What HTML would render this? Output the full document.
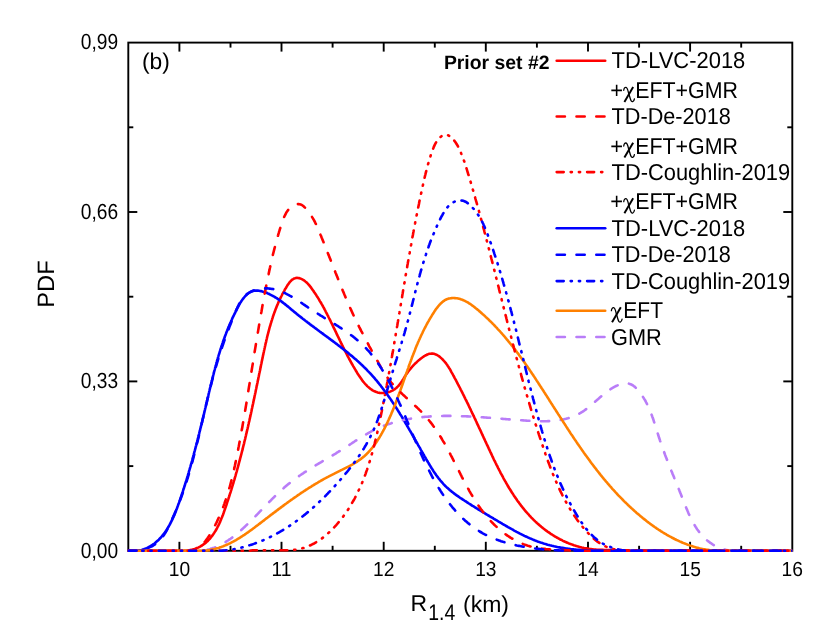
<!DOCTYPE html>
<html><head><meta charset="utf-8"><title>PDF R1.4</title>
<style>
html,body{margin:0;padding:0;background:#fff;}
body{width:830px;height:636px;overflow:hidden;}
svg{display:block;font-family:"Liberation Sans",sans-serif;will-change:transform;text-rendering:geometricPrecision;}
text{fill:#000;}
.chi{font-family:"Liberation Serif",serif;font-size:24.5px;}
.cv{fill:none;stroke-width:2.6;stroke-linecap:round;stroke-linejoin:round;}
.curves path{fill:none;stroke-width:2.6;stroke-linecap:round;stroke-linejoin:round;}
.ax line{stroke:#000;stroke-width:1.9;}
</style></head>
<body>
<svg width="830" height="636" viewBox="0 0 830 636">
<rect x="0" y="0" width="830" height="636" fill="#ffffff"/>
<g class="ax">
<rect x="128.3" y="42.6" width="664.0" height="508.19999999999993" fill="none" stroke="#000" stroke-width="1.9"/>
<line x1="179.4" y1="550.8" x2="179.4" y2="541.8"/>
<line x1="179.4" y1="42.6" x2="179.4" y2="51.6"/>
<line x1="230.5" y1="550.8" x2="230.5" y2="545.8"/>
<line x1="230.5" y1="42.6" x2="230.5" y2="47.6"/>
<line x1="281.5" y1="550.8" x2="281.5" y2="541.8"/>
<line x1="281.5" y1="42.6" x2="281.5" y2="51.6"/>
<line x1="332.6" y1="550.8" x2="332.6" y2="545.8"/>
<line x1="332.6" y1="42.6" x2="332.6" y2="47.6"/>
<line x1="383.7" y1="550.8" x2="383.7" y2="541.8"/>
<line x1="383.7" y1="42.6" x2="383.7" y2="51.6"/>
<line x1="434.8" y1="550.8" x2="434.8" y2="545.8"/>
<line x1="434.8" y1="42.6" x2="434.8" y2="47.6"/>
<line x1="485.8" y1="550.8" x2="485.8" y2="541.8"/>
<line x1="485.8" y1="42.6" x2="485.8" y2="51.6"/>
<line x1="536.9" y1="550.8" x2="536.9" y2="545.8"/>
<line x1="536.9" y1="42.6" x2="536.9" y2="47.6"/>
<line x1="588.0" y1="550.8" x2="588.0" y2="541.8"/>
<line x1="588.0" y1="42.6" x2="588.0" y2="51.6"/>
<line x1="639.1" y1="550.8" x2="639.1" y2="545.8"/>
<line x1="639.1" y1="42.6" x2="639.1" y2="47.6"/>
<line x1="690.1" y1="550.8" x2="690.1" y2="541.8"/>
<line x1="690.1" y1="42.6" x2="690.1" y2="51.6"/>
<line x1="741.2" y1="550.8" x2="741.2" y2="545.8"/>
<line x1="741.2" y1="42.6" x2="741.2" y2="47.6"/>
<line x1="128.3" y1="466.1" x2="133.3" y2="466.1"/>
<line x1="792.3" y1="466.1" x2="787.3" y2="466.1"/>
<line x1="128.3" y1="381.4" x2="137.3" y2="381.4"/>
<line x1="792.3" y1="381.4" x2="783.3" y2="381.4"/>
<line x1="128.3" y1="296.7" x2="133.3" y2="296.7"/>
<line x1="792.3" y1="296.7" x2="787.3" y2="296.7"/>
<line x1="128.3" y1="212.0" x2="137.3" y2="212.0"/>
<line x1="792.3" y1="212.0" x2="783.3" y2="212.0"/>
<line x1="128.3" y1="127.3" x2="133.3" y2="127.3"/>
<line x1="792.3" y1="127.3" x2="787.3" y2="127.3"/>
</g>
<clipPath id="pc"><rect x="127.70000000000002" y="42.6" width="664.6" height="511.19999999999993"/></clipPath>
<g class="curves" clip-path="url(#pc)">
<path d="M128.3,550.8 L185.0,550.8 L186.3,550.7 L187.6,550.5 L188.9,550.4 L190.2,550.1 L191.4,549.9 L192.6,549.6 L193.7,549.2 L194.8,548.9 L195.9,548.5 L197.0,548.0 L198.1,547.6 L199.1,547.1 L200.1,546.6 L201.0,546.0 L202.0,545.5 L202.9,544.8 L203.8,544.2 L204.7,543.6 L205.5,542.9 L206.4,542.2 L207.2,541.4 L208.0,540.7 L208.7,539.9 L209.5,539.1 L210.2,538.3 L210.9,537.4 L211.6,536.5 L212.3,535.7 L212.9,534.8 L213.6,533.8 L214.2,532.9 L214.8,531.9 L215.4,531.0 L216.0,530.0 L216.6,529.0 L217.1,528.0 L217.6,526.9 L218.2,525.9 L218.7,524.8 L219.2,523.8 L219.7,522.7 L220.2,521.6 L220.6,520.5 L221.1,519.4 L221.5,518.3 L222.0,517.2 L222.4,516.1 L222.9,515.0 L223.3,513.8 L223.7,512.7 L224.1,511.5 L224.5,510.4 L224.9,509.3 L225.3,508.1 L225.7,507.0 L226.1,505.8 L226.5,504.7 L226.9,503.5 L227.2,502.4 L227.6,501.2 L228.0,500.1 L228.4,498.9 L228.7,497.8 L229.1,496.7 L229.5,495.5 L229.8,494.4 L230.2,493.2 L230.6,492.1 L230.9,491.0 L231.3,489.8 L231.6,488.7 L232.0,487.5 L232.3,486.4 L232.7,485.3 L233.0,484.1 L233.4,483.0 L233.7,481.8 L234.0,480.7 L234.4,479.6 L234.7,478.4 L235.0,477.3 L235.4,476.1 L235.7,475.0 L236.0,473.9 L236.3,472.7 L236.7,471.6 L237.0,470.5 L237.3,469.3 L237.6,468.2 L237.9,467.1 L238.2,465.9 L238.5,464.8 L238.8,463.7 L239.1,462.5 L239.4,461.4 L239.7,460.3 L240.0,459.1 L240.3,458.0 L240.6,456.9 L240.9,455.7 L241.2,454.6 L241.5,453.5 L241.8,452.3 L242.1,451.2 L242.4,450.1 L242.7,448.9 L242.9,447.8 L243.2,446.7 L243.5,445.5 L243.8,444.4 L244.1,443.3 L244.3,442.1 L244.6,441.0 L244.9,439.9 L245.2,438.7 L245.4,437.6 L245.7,436.5 L246.0,435.3 L246.2,434.2 L246.5,433.1 L246.8,431.9 L247.0,430.8 L247.3,429.7 L247.6,428.5 L247.8,427.4 L248.1,426.3 L248.3,425.1 L248.6,424.0 L248.8,422.9 L249.1,421.7 L249.4,420.6 L249.6,419.5 L249.9,418.4 L250.1,417.2 L250.4,416.1 L250.6,414.9 L250.9,413.8 L251.1,412.7 L251.4,411.5 L251.6,410.4 L251.8,409.3 L252.1,408.1 L252.3,407.0 L252.6,405.9 L252.8,404.7 L253.1,403.6 L253.3,402.5 L253.5,401.3 L253.8,400.2 L254.0,399.1 L254.3,397.9 L254.5,396.8 L254.7,395.6 L255.0,394.5 L255.2,393.4 L255.5,392.2 L255.7,391.1 L255.9,390.0 L256.2,388.8 L256.4,387.7 L256.6,386.5 L256.9,385.4 L257.1,384.3 L257.4,383.1 L257.6,382.0 L257.8,380.8 L258.1,379.7 L258.3,378.5 L258.5,377.4 L258.8,376.3 L259.0,375.1 L259.2,374.0 L259.5,372.8 L259.7,371.7 L260.0,370.5 L260.2,369.4 L260.4,368.2 L260.7,367.1 L260.9,365.9 L261.1,364.8 L261.4,363.6 L261.6,362.5 L261.8,361.3 L262.1,360.2 L262.3,359.0 L262.6,357.9 L262.8,356.7 L263.0,355.6 L263.3,354.4 L263.5,353.3 L263.8,352.1 L264.0,351.0 L264.3,349.8 L264.5,348.7 L264.8,347.5 L265.0,346.4 L265.3,345.2 L265.5,344.1 L265.8,342.9 L266.1,341.8 L266.3,340.6 L266.6,339.5 L266.9,338.3 L267.1,337.2 L267.4,336.0 L267.7,334.9 L268.0,333.7 L268.3,332.6 L268.6,331.4 L268.9,330.3 L269.2,329.2 L269.5,328.0 L269.8,326.9 L270.2,325.8 L270.5,324.6 L270.8,323.5 L271.2,322.4 L271.5,321.2 L271.9,320.1 L272.2,319.0 L272.6,317.9 L272.9,316.7 L273.3,315.6 L273.7,314.5 L274.1,313.4 L274.5,312.3 L274.9,311.2 L275.3,310.1 L275.7,309.0 L276.2,307.9 L276.6,306.8 L277.0,305.7 L277.5,304.6 L278.0,303.5 L278.4,302.4 L278.9,301.4 L279.4,300.3 L279.9,299.2 L280.4,298.1 L280.9,297.1 L281.5,296.0 L282.0,295.0 L282.5,293.9 L283.1,292.9 L283.7,291.8 L284.3,290.8 L284.8,289.7 L285.4,288.7 L286.1,287.7 L286.7,286.6 L287.3,285.6 L288.0,284.6 L288.6,283.7 L289.3,282.7 L290.0,281.9 L290.8,281.0 L291.5,280.3 L292.3,279.6 L293.2,279.1 L294.0,278.6 L295.0,278.3 L295.9,278.0 L296.9,277.9 L298.0,278.0 L299.0,278.1 L300.1,278.4 L301.2,278.9 L302.3,279.4 L303.3,280.0 L304.4,280.6 L305.3,281.4 L306.3,282.2 L307.2,283.0 L308.0,284.0 L308.9,284.9 L309.7,285.9 L310.5,286.9 L311.3,287.9 L312.0,288.9 L312.7,289.9 L313.5,291.0 L314.1,292.0 L314.8,293.0 L315.5,294.0 L316.1,294.9 L316.7,295.9 L317.4,296.9 L318.0,297.9 L318.6,298.8 L319.2,299.8 L319.7,300.8 L320.3,301.8 L320.9,302.7 L321.4,303.7 L322.0,304.7 L322.6,305.7 L323.1,306.7 L323.7,307.7 L324.2,308.7 L324.7,309.7 L325.3,310.7 L325.8,311.8 L326.4,312.8 L326.9,313.8 L327.4,314.9 L328.0,315.9 L328.5,317.0 L329.0,318.0 L329.6,319.1 L330.1,320.2 L330.6,321.2 L331.1,322.3 L331.7,323.4 L332.2,324.4 L332.7,325.5 L333.2,326.6 L333.7,327.6 L334.2,328.7 L334.8,329.8 L335.3,330.9 L335.8,331.9 L336.3,333.0 L336.8,334.1 L337.3,335.2 L337.8,336.2 L338.4,337.3 L338.9,338.4 L339.4,339.4 L339.9,340.5 L340.4,341.5 L340.9,342.6 L341.4,343.7 L341.9,344.7 L342.5,345.7 L343.0,346.8 L343.5,347.8 L344.0,348.9 L344.5,349.9 L345.0,350.9 L345.5,351.9 L346.1,352.9 L346.6,353.9 L347.1,354.9 L347.6,356.0 L348.2,357.0 L348.7,358.0 L349.2,359.0 L349.8,360.0 L350.3,361.0 L350.9,362.0 L351.4,363.0 L352.0,364.0 L352.6,365.0 L353.2,366.1 L353.8,367.1 L354.4,368.1 L355.0,369.2 L355.6,370.2 L356.2,371.3 L356.9,372.3 L357.5,373.4 L358.2,374.4 L358.9,375.5 L359.6,376.5 L360.3,377.6 L361.0,378.6 L361.7,379.6 L362.4,380.6 L363.2,381.6 L364.0,382.5 L364.8,383.5 L365.6,384.4 L366.4,385.2 L367.2,386.1 L368.1,386.9 L368.9,387.6 L369.8,388.4 L370.7,389.0 L371.7,389.7 L372.6,390.3 L373.6,390.8 L374.6,391.3 L375.6,391.7 L376.6,392.1 L377.6,392.4 L378.7,392.7 L379.8,392.9 L380.9,393.0 L382.1,393.0 L383.2,393.0 L384.4,392.9 L385.5,392.8 L386.7,392.6 L387.9,392.3 L389.0,392.0 L390.1,391.6 L391.2,391.1 L392.3,390.6 L393.4,390.0 L394.4,389.4 L395.3,388.7 L396.3,388.0 L397.1,387.2 L398.0,386.3 L398.8,385.5 L399.5,384.6 L400.2,383.6 L400.9,382.7 L401.6,381.7 L402.3,380.7 L402.9,379.7 L403.6,378.6 L404.2,377.6 L404.8,376.6 L405.5,375.6 L406.1,374.6 L406.8,373.6 L407.5,372.7 L408.1,371.7 L408.8,370.8 L409.5,369.9 L410.3,369.0 L411.0,368.1 L411.8,367.2 L412.5,366.3 L413.3,365.5 L414.1,364.6 L414.9,363.8 L415.8,363.0 L416.7,362.2 L417.5,361.4 L418.4,360.6 L419.4,359.8 L420.3,359.0 L421.3,358.2 L422.3,357.5 L423.3,356.8 L424.3,356.1 L425.3,355.5 L426.4,355.0 L427.4,354.5 L428.5,354.1 L429.5,353.8 L430.6,353.7 L431.6,353.6 L432.7,353.6 L433.7,353.8 L434.8,354.1 L435.8,354.5 L436.8,354.9 L437.8,355.5 L438.8,356.1 L439.7,356.8 L440.6,357.6 L441.5,358.4 L442.4,359.2 L443.2,360.1 L444.0,361.0 L444.8,361.9 L445.6,362.8 L446.3,363.8 L447.0,364.7 L447.6,365.7 L448.3,366.7 L448.9,367.7 L449.6,368.7 L450.2,369.7 L450.8,370.8 L451.3,371.8 L451.9,372.9 L452.5,373.9 L453.1,375.0 L453.6,376.0 L454.2,377.0 L454.7,378.1 L455.3,379.1 L455.9,380.2 L456.4,381.2 L457.0,382.3 L457.5,383.3 L458.0,384.4 L458.6,385.4 L459.1,386.4 L459.7,387.5 L460.2,388.5 L460.7,389.6 L461.3,390.6 L461.8,391.7 L462.3,392.7 L462.8,393.7 L463.4,394.8 L463.9,395.8 L464.4,396.9 L464.9,397.9 L465.4,399.0 L465.9,400.0 L466.5,401.0 L467.0,402.1 L467.5,403.1 L468.0,404.2 L468.5,405.2 L469.0,406.3 L469.5,407.3 L470.0,408.4 L470.5,409.4 L471.0,410.5 L471.5,411.5 L472.0,412.6 L472.5,413.6 L473.0,414.6 L473.5,415.7 L474.0,416.7 L474.5,417.8 L475.0,418.8 L475.5,419.9 L476.0,421.0 L476.5,422.0 L476.9,423.1 L477.4,424.1 L477.9,425.2 L478.4,426.2 L478.9,427.3 L479.4,428.3 L479.9,429.4 L480.4,430.4 L480.9,431.5 L481.4,432.6 L481.9,433.6 L482.3,434.7 L482.8,435.7 L483.3,436.8 L483.8,437.9 L484.3,438.9 L484.8,440.0 L485.3,441.1 L485.8,442.1 L486.3,443.2 L486.8,444.3 L487.3,445.3 L487.8,446.4 L488.3,447.5 L488.8,448.6 L489.3,449.6 L489.8,450.7 L490.3,451.8 L490.8,452.8 L491.3,453.9 L491.8,455.0 L492.3,456.1 L492.8,457.1 L493.3,458.2 L493.8,459.3 L494.3,460.3 L494.9,461.4 L495.4,462.5 L495.9,463.5 L496.4,464.6 L497.0,465.7 L497.5,466.7 L498.0,467.8 L498.6,468.8 L499.1,469.9 L499.7,471.0 L500.2,472.0 L500.7,473.1 L501.3,474.1 L501.9,475.1 L502.4,476.2 L503.0,477.2 L503.5,478.3 L504.1,479.3 L504.7,480.3 L505.3,481.4 L505.9,482.4 L506.4,483.4 L507.0,484.4 L507.6,485.5 L508.2,486.5 L508.8,487.5 L509.4,488.5 L510.1,489.5 L510.7,490.5 L511.3,491.5 L511.9,492.5 L512.6,493.5 L513.2,494.4 L513.8,495.4 L514.5,496.4 L515.1,497.4 L515.8,498.3 L516.5,499.3 L517.1,500.2 L517.8,501.2 L518.5,502.1 L519.2,503.1 L519.9,504.0 L520.6,504.9 L521.3,505.9 L522.0,506.8 L522.7,507.7 L523.5,508.6 L524.2,509.5 L524.9,510.4 L525.7,511.3 L526.4,512.1 L527.2,513.0 L528.0,513.9 L528.8,514.7 L529.5,515.6 L530.3,516.4 L531.1,517.3 L531.9,518.1 L532.7,518.9 L533.6,519.8 L534.4,520.6 L535.2,521.4 L536.1,522.2 L536.9,523.0 L537.8,523.7 L538.7,524.5 L539.5,525.3 L540.4,526.0 L541.3,526.8 L542.2,527.5 L543.1,528.3 L544.1,529.0 L545.0,529.7 L545.9,530.4 L546.9,531.1 L547.8,531.8 L548.8,532.4 L549.8,533.1 L550.7,533.8 L551.7,534.4 L552.7,535.0 L553.7,535.7 L554.7,536.3 L555.7,536.9 L556.7,537.5 L557.8,538.0 L558.8,538.6 L559.8,539.2 L560.9,539.7 L561.9,540.2 L563.0,540.8 L564.0,541.3 L565.1,541.8 L566.2,542.2 L567.3,542.7 L568.3,543.2 L569.4,543.6 L570.5,544.0 L571.6,544.4 L572.7,544.8 L573.8,545.2 L575.0,545.6 L576.1,545.9 L577.2,546.3 L578.3,546.6 L579.5,546.9 L580.6,547.2 L581.7,547.5 L582.9,547.7 L584.0,548.0 L585.2,548.2 L586.3,548.4 L587.5,548.6 L588.6,548.8 L589.8,549.0 L591.0,549.1 L592.1,549.2 L593.3,549.4 L594.5,549.5 L595.7,549.6 L596.8,549.7 L598.0,549.7 L599.2,549.8 L600.4,549.8 L601.6,549.9 L602.8,549.9 L603.9,550.0 L605.1,550.0 L606.3,550.0 L607.5,550.1 L608.7,550.1 L609.8,550.1 L611.0,550.1 L612.2,550.2 L613.4,550.2 L614.6,550.2 L615.7,550.3 L616.9,550.3 L618.1,550.4 L619.2,550.4 L620.4,550.5 L621.5,550.5 L622.7,550.6 L623.9,550.7 L625.0,550.8 L792.3,550.8" stroke="#ff0000"/>
<path d="M128.4,550.8 L129.6,550.8 L130.7,550.8 L131.9,550.8 L133.0,550.8 L134.1,550.8 L135.2,550.8 L136.3,550.8 L137.4,550.8 L138.5,550.6 L139.6,550.4 L140.6,550.2 L141.7,549.9 L142.7,549.6 L143.7,549.3 L144.7,548.9 L145.7,548.5 L146.7,548.1 L147.6,547.7 L148.6,547.2 L149.5,546.7 L150.4,546.2 L151.3,545.6 L152.2,545.0 L153.1,544.4 L154.0,543.8 L154.8,543.2 L155.6,542.5 L156.4,541.8 L157.2,541.1 L158.0,540.4 L158.8,539.7 L159.5,538.9 L160.2,538.1 L161.0,537.4 L161.7,536.5 L162.4,535.7 L163.0,534.9 L163.7,534.0 L164.3,533.2 L165.0,532.3 L165.6,531.4 L166.2,530.5 L166.8,529.6 L167.3,528.7 L167.9,527.7 L168.5,526.8 L169.0,525.8 L169.6,524.9 L170.1,523.9 L170.6,522.9 L171.1,521.9 L171.6,520.9 L172.1,519.9 L172.5,518.9 L173.0,517.9 L173.5,516.8 L173.9,515.8 L174.4,514.8 L174.8,513.8 L175.2,512.7 L175.6,511.7 L176.1,510.6 L176.5,509.6 L176.9,508.5 L177.3,507.5 L177.6,506.4 L178.0,505.4 L178.4,504.3 L178.8,503.3 L179.2,502.2 L179.5,501.2 L179.9,500.1 L180.2,499.1 L180.6,498.1 L181.0,497.0 L181.3,496.0 L181.7,495.0 L182.0,493.9 L182.3,492.9 L182.7,491.9 L183.0,490.9 L183.3,489.8 L183.7,488.8 L184.0,487.8 L184.3,486.8 L184.7,485.8 L185.0,484.7 L185.3,483.7 L185.6,482.7 L185.9,481.7 L186.3,480.7 L186.6,479.7 L186.9,478.6 L187.2,477.6 L187.5,476.6 L187.8,475.6 L188.1,474.5 L188.4,473.5 L188.7,472.5 L189.0,471.4 L189.3,470.4 L189.6,469.4 L189.9,468.3 L190.2,467.3 L190.5,466.3 L190.8,465.2 L191.1,464.2 L191.4,463.2 L191.7,462.1 L192.0,461.1 L192.3,460.0 L192.5,459.0 L192.8,457.9 L193.1,456.9 L193.4,455.8 L193.7,454.8 L194.0,453.7 L194.2,452.7 L194.5,451.6 L194.8,450.6 L195.1,449.5 L195.4,448.4 L195.6,447.4 L195.9,446.3 L196.2,445.3 L196.5,444.2 L196.7,443.1 L197.0,442.1 L197.3,441.0 L197.6,440.0 L197.8,438.9 L198.1,437.8 L198.4,436.8 L198.6,435.7 L198.9,434.6 L199.2,433.6 L199.4,432.5 L199.7,431.4 L200.0,430.4 L200.2,429.3 L200.5,428.2 L200.8,427.2 L201.0,426.1 L201.3,425.0 L201.5,424.0 L201.8,422.9 L202.1,421.8 L202.3,420.8 L202.6,419.7 L202.8,418.6 L203.1,417.6 L203.3,416.5 L203.6,415.4 L203.9,414.4 L204.1,413.3 L204.4,412.2 L204.6,411.2 L204.9,410.1 L205.1,409.0 L205.4,408.0 L205.6,406.9 L205.9,405.9 L206.1,404.8 L206.4,403.7 L206.6,402.7 L206.9,401.6 L207.1,400.6 L207.4,399.5 L207.6,398.4 L207.9,397.4 L208.1,396.3 L208.4,395.3 L208.6,394.2 L208.9,393.1 L209.1,392.1 L209.4,391.0 L209.6,390.0 L209.9,388.9 L210.1,387.9 L210.4,386.8 L210.6,385.8 L210.9,384.7 L211.2,383.7 L211.4,382.6 L211.7,381.6 L211.9,380.5 L212.2,379.5 L212.4,378.4 L212.7,377.4 L213.0,376.4 L213.2,375.3 L213.5,374.3 L213.8,373.2 L214.0,372.2 L214.3,371.1 L214.6,370.1 L214.9,369.0 L215.1,368.0 L215.4,367.0 L215.7,365.9 L216.0,364.9 L216.3,363.8 L216.5,362.8 L216.8,361.8 L217.1,360.7 L217.4,359.7 L217.7,358.7 L218.0,357.6 L218.3,356.6 L218.6,355.5 L218.9,354.5 L219.3,353.5 L219.6,352.4 L219.9,351.4 L220.2,350.4 L220.5,349.3 L220.9,348.3 L221.2,347.3 L221.5,346.2 L221.9,345.2 L222.2,344.2 L222.6,343.1 L222.9,342.1 L223.3,341.1 L223.7,340.0 L224.0,339.0 L224.4,338.0 L224.8,337.0 L225.1,335.9 L225.5,334.9 L225.9,333.9 L226.3,332.8 L226.7,331.8 L227.1,330.8 L227.5,329.7 L227.9,328.7 L228.3,327.7 L228.8,326.7 L229.2,325.6 L229.6,324.6 L230.1,323.6 L230.5,322.5 L231.0,321.5 L231.4,320.5 L231.9,319.5 L232.3,318.4 L232.8,317.4 L233.3,316.4 L233.8,315.4 L234.3,314.3 L234.8,313.3 L235.3,312.3 L235.8,311.2 L236.3,310.2 L236.8,309.2 L237.3,308.2 L237.9,307.2 L238.4,306.1 L239.0,305.1 L239.5,304.1 L240.1,303.2 L240.7,302.2 L241.3,301.3 L241.9,300.4 L242.5,299.5 L243.2,298.6 L243.8,297.8 L244.5,297.0 L245.2,296.2 L245.9,295.5 L246.6,294.8 L247.4,294.1 L248.1,293.5 L248.9,293.0 L249.7,292.5 L250.5,292.0 L251.4,291.6 L252.2,291.3 L253.1,291.0 L254.0,290.8 L255.0,290.6 L255.9,290.6 L256.9,290.5 L257.9,290.6 L259.0,290.7 L260.0,290.9 L261.1,291.1 L262.2,291.4 L263.2,291.7 L264.3,292.0 L265.4,292.4 L266.5,292.8 L267.6,293.3 L268.6,293.8 L269.7,294.3 L270.7,294.8 L271.7,295.3 L272.7,295.8 L273.7,296.4 L274.7,297.0 L275.6,297.5 L276.6,298.1 L277.5,298.7 L278.4,299.4 L279.3,300.0 L280.2,300.6 L281.1,301.2 L282.0,301.9 L282.9,302.6 L283.7,303.2 L284.6,303.9 L285.5,304.6 L286.3,305.2 L287.1,305.9 L288.0,306.6 L288.8,307.3 L289.7,308.0 L290.5,308.7 L291.3,309.4 L292.1,310.1 L293.0,310.8 L293.8,311.5 L294.6,312.2 L295.5,312.8 L296.3,313.5 L297.1,314.2 L298.0,314.9 L298.8,315.6 L299.7,316.3 L300.5,316.9 L301.4,317.6 L302.2,318.3 L303.1,319.0 L304.0,319.6 L304.8,320.3 L305.7,321.0 L306.6,321.6 L307.4,322.3 L308.3,322.9 L309.2,323.6 L310.0,324.3 L310.9,324.9 L311.8,325.6 L312.7,326.2 L313.6,326.9 L314.4,327.5 L315.3,328.2 L316.2,328.8 L317.1,329.5 L318.0,330.2 L318.8,330.8 L319.7,331.5 L320.6,332.1 L321.5,332.8 L322.4,333.4 L323.3,334.1 L324.1,334.7 L325.0,335.4 L325.9,336.0 L326.8,336.7 L327.7,337.3 L328.6,338.0 L329.4,338.6 L330.3,339.3 L331.2,339.9 L332.1,340.6 L333.0,341.2 L333.8,341.9 L334.7,342.5 L335.6,343.2 L336.5,343.9 L337.3,344.5 L338.2,345.2 L339.1,345.9 L339.9,346.5 L340.8,347.2 L341.7,347.9 L342.5,348.5 L343.4,349.2 L344.3,349.9 L345.1,350.6 L346.0,351.2 L346.8,351.9 L347.7,352.6 L348.5,353.3 L349.3,354.0 L350.2,354.7 L351.0,355.4 L351.9,356.1 L352.7,356.8 L353.5,357.5 L354.3,358.2 L355.2,358.9 L356.0,359.6 L356.8,360.3 L357.6,361.1 L358.4,361.8 L359.2,362.5 L360.0,363.2 L360.8,364.0 L361.6,364.7 L362.4,365.5 L363.1,366.2 L363.9,367.0 L364.7,367.7 L365.5,368.5 L366.2,369.2 L367.0,370.0 L367.7,370.8 L368.5,371.6 L369.2,372.3 L370.0,373.1 L370.7,373.9 L371.4,374.7 L372.1,375.5 L372.9,376.3 L373.6,377.1 L374.3,377.9 L375.0,378.8 L375.7,379.6 L376.4,380.4 L377.1,381.2 L377.8,382.1 L378.4,382.9 L379.1,383.7 L379.8,384.6 L380.5,385.4 L381.1,386.3 L381.8,387.1 L382.4,388.0 L383.1,388.9 L383.7,389.7 L384.4,390.6 L385.0,391.5 L385.7,392.3 L386.3,393.2 L386.9,394.1 L387.6,395.0 L388.2,395.9 L388.8,396.7 L389.4,397.6 L390.1,398.5 L390.7,399.4 L391.3,400.3 L391.9,401.2 L392.5,402.1 L393.1,403.0 L393.7,403.9 L394.3,404.9 L394.9,405.8 L395.5,406.7 L396.1,407.6 L396.7,408.5 L397.3,409.4 L397.8,410.4 L398.4,411.3 L399.0,412.2 L399.6,413.1 L400.1,414.1 L400.7,415.0 L401.3,415.9 L401.9,416.9 L402.4,417.8 L403.0,418.7 L403.5,419.7 L404.1,420.6 L404.7,421.6 L405.2,422.5 L405.8,423.5 L406.3,424.4 L406.9,425.3 L407.4,426.3 L408.0,427.2 L408.5,428.2 L409.1,429.1 L409.6,430.1 L410.2,431.0 L410.7,432.0 L411.3,432.9 L411.8,433.9 L412.4,434.9 L412.9,435.8 L413.5,436.8 L414.0,437.7 L414.5,438.7 L415.1,439.6 L415.6,440.6 L416.2,441.5 L416.7,442.5 L417.3,443.4 L417.8,444.4 L418.3,445.3 L418.9,446.3 L419.4,447.2 L420.0,448.2 L420.5,449.2 L421.0,450.1 L421.6,451.1 L422.1,452.0 L422.7,453.0 L423.2,453.9 L423.8,454.8 L424.3,455.8 L424.8,456.7 L425.4,457.7 L425.9,458.6 L426.5,459.6 L427.0,460.5 L427.6,461.5 L428.1,462.4 L428.7,463.3 L429.2,464.3 L429.8,465.2 L430.4,466.1 L430.9,467.0 L431.5,468.0 L432.1,468.9 L432.7,469.8 L433.2,470.7 L433.8,471.6 L434.4,472.5 L435.0,473.4 L435.7,474.3 L436.3,475.2 L436.9,476.0 L437.5,476.9 L438.2,477.8 L438.8,478.6 L439.5,479.4 L440.2,480.3 L440.9,481.1 L441.6,481.9 L442.3,482.7 L443.0,483.5 L443.7,484.3 L444.5,485.1 L445.2,485.9 L446.0,486.6 L446.8,487.4 L447.6,488.1 L448.4,488.8 L449.2,489.5 L450.0,490.2 L450.9,490.9 L451.7,491.6 L452.6,492.3 L453.5,493.0 L454.3,493.6 L455.2,494.3 L456.1,494.9 L457.0,495.6 L457.9,496.2 L458.8,496.8 L459.7,497.5 L460.6,498.1 L461.6,498.7 L462.5,499.3 L463.4,499.9 L464.3,500.5 L465.3,501.1 L466.2,501.7 L467.1,502.3 L468.0,502.9 L468.9,503.5 L469.9,504.1 L470.8,504.7 L471.7,505.3 L472.6,505.9 L473.6,506.4 L474.5,507.0 L475.4,507.6 L476.3,508.2 L477.2,508.7 L478.2,509.3 L479.1,509.9 L480.0,510.4 L480.9,511.0 L481.9,511.6 L482.8,512.1 L483.7,512.7 L484.6,513.2 L485.6,513.8 L486.5,514.4 L487.4,514.9 L488.3,515.5 L489.3,516.0 L490.2,516.6 L491.1,517.1 L492.1,517.7 L493.0,518.2 L493.9,518.8 L494.9,519.3 L495.8,519.9 L496.7,520.4 L497.7,521.0 L498.6,521.6 L499.5,522.1 L500.5,522.7 L501.4,523.2 L502.4,523.8 L503.3,524.3 L504.2,524.9 L505.2,525.4 L506.1,526.0 L507.1,526.5 L508.0,527.1 L509.0,527.6 L509.9,528.1 L510.9,528.7 L511.8,529.2 L512.8,529.7 L513.8,530.3 L514.7,530.8 L515.7,531.3 L516.6,531.8 L517.6,532.3 L518.6,532.8 L519.5,533.3 L520.5,533.8 L521.5,534.3 L522.5,534.8 L523.5,535.3 L524.4,535.8 L525.4,536.3 L526.4,536.7 L527.4,537.2 L528.4,537.6 L529.4,538.1 L530.4,538.5 L531.4,538.9 L532.4,539.4 L533.4,539.8 L534.4,540.2 L535.4,540.6 L536.4,541.0 L537.4,541.4 L538.4,541.7 L539.5,542.1 L540.5,542.5 L541.5,542.8 L542.5,543.1 L543.6,543.5 L544.6,543.8 L545.7,544.1 L546.7,544.4 L547.7,544.7 L548.8,545.0 L549.8,545.3 L550.9,545.5 L552.0,545.8 L553.0,546.0 L554.1,546.3 L555.1,546.5 L556.2,546.7 L557.3,547.0 L558.3,547.2 L559.4,547.4 L560.5,547.6 L561.6,547.8 L562.6,547.9 L563.7,548.1 L564.8,548.3 L565.9,548.5 L566.9,548.6 L568.0,548.8 L569.1,548.9 L570.2,549.0 L571.3,549.2 L572.4,549.3 L573.4,549.4 L574.5,549.5 L575.6,549.6 L576.7,549.7 L577.8,549.8 L578.9,549.9 L580.0,550.0 L581.1,550.1 L582.2,550.2 L583.3,550.2 L584.3,550.3 L585.4,550.4 L586.5,550.4 L587.6,550.5 L588.7,550.5 L589.8,550.6 L590.9,550.6 L592.0,550.6 L593.1,550.7 L594.2,550.7 L595.2,550.7 L596.3,550.7 L597.4,550.8 L598.5,550.8 L599.6,550.8 L600.7,550.8 L601.8,550.8 L602.8,550.8 L603.9,550.8 L605.0,550.8 L792.3,550.8" stroke="#0000ff"/>
<path d="M128.3,550.8 L195.0,550.8 L196.1,550.8 L197.1,550.8 L198.2,550.8 L199.2,550.8 L200.3,550.7 L201.3,550.6 L202.3,550.5 L203.3,550.4 L204.3,550.2 L205.3,550.1 L206.3,549.9 L207.3,549.7 L208.3,549.4 L209.2,549.2 L210.2,548.9 L211.1,548.6 L212.1,548.4 L213.0,548.0 L214.0,547.7 L214.9,547.4 L215.8,547.0 L216.7,546.6 L217.6,546.2 L218.5,545.8 L219.4,545.4 L220.3,545.0 L221.2,544.5 L222.0,544.1 L222.9,543.6 L223.8,543.1 L224.6,542.6 L225.5,542.1 L226.3,541.5 L227.2,541.0 L228.0,540.5 L228.8,539.9 L229.6,539.3 L230.5,538.8 L231.3,538.2 L232.1,537.6 L232.9,537.0 L233.7,536.4 L234.5,535.7 L235.3,535.1 L236.1,534.5 L236.8,533.8 L237.6,533.2 L238.4,532.5 L239.2,531.8 L239.9,531.2 L240.7,530.5 L241.5,529.8 L242.2,529.1 L243.0,528.4 L243.7,527.7 L244.5,527.0 L245.2,526.3 L245.9,525.6 L246.7,524.9 L247.4,524.2 L248.2,523.5 L248.9,522.8 L249.6,522.1 L250.3,521.4 L251.1,520.6 L251.8,519.9 L252.5,519.2 L253.2,518.5 L253.9,517.7 L254.6,517.0 L255.4,516.3 L256.1,515.5 L256.8,514.8 L257.5,514.1 L258.2,513.4 L258.9,512.6 L259.6,511.9 L260.3,511.2 L261.0,510.4 L261.7,509.7 L262.4,509.0 L263.1,508.2 L263.8,507.5 L264.5,506.8 L265.2,506.0 L265.9,505.3 L266.7,504.6 L267.4,503.9 L268.1,503.1 L268.8,502.4 L269.5,501.7 L270.2,501.0 L270.9,500.3 L271.6,499.5 L272.3,498.8 L273.0,498.1 L273.8,497.4 L274.5,496.7 L275.2,496.0 L275.9,495.3 L276.6,494.6 L277.4,493.9 L278.1,493.2 L278.8,492.5 L279.6,491.8 L280.3,491.2 L281.0,490.5 L281.8,489.8 L282.5,489.1 L283.3,488.5 L284.0,487.8 L284.8,487.1 L285.5,486.5 L286.3,485.8 L287.0,485.2 L287.8,484.5 L288.6,483.9 L289.4,483.3 L290.1,482.7 L290.9,482.0 L291.7,481.4 L292.5,480.8 L293.3,480.2 L294.1,479.6 L294.9,479.0 L295.7,478.4 L296.5,477.8 L297.3,477.2 L298.2,476.7 L299.0,476.1 L299.8,475.5 L300.6,475.0 L301.5,474.4 L302.3,473.8 L303.1,473.3 L304.0,472.7 L304.8,472.2 L305.7,471.6 L306.5,471.1 L307.3,470.5 L308.2,470.0 L309.1,469.5 L309.9,468.9 L310.8,468.4 L311.6,467.9 L312.5,467.3 L313.3,466.8 L314.2,466.3 L315.1,465.7 L315.9,465.2 L316.8,464.7 L317.7,464.2 L318.5,463.7 L319.4,463.1 L320.3,462.6 L321.2,462.1 L322.0,461.6 L322.9,461.1 L323.8,460.6 L324.7,460.0 L325.5,459.5 L326.4,459.0 L327.3,458.5 L328.2,458.0 L329.0,457.4 L329.9,456.9 L330.8,456.4 L331.7,455.9 L332.5,455.4 L333.4,454.8 L334.3,454.3 L335.2,453.8 L336.0,453.3 L336.9,452.7 L337.8,452.2 L338.6,451.7 L339.5,451.1 L340.4,450.6 L341.2,450.1 L342.1,449.5 L343.0,449.0 L343.8,448.4 L344.7,447.9 L345.5,447.3 L346.4,446.8 L347.2,446.2 L348.1,445.7 L348.9,445.1 L349.8,444.6 L350.7,444.0 L351.5,443.5 L352.4,442.9 L353.2,442.3 L354.1,441.8 L354.9,441.2 L355.8,440.7 L356.6,440.1 L357.5,439.6 L358.3,439.0 L359.2,438.5 L360.0,438.0 L360.9,437.4 L361.8,436.9 L362.6,436.4 L363.5,435.9 L364.4,435.3 L365.2,434.8 L366.1,434.3 L367.0,433.8 L367.8,433.3 L368.7,432.8 L369.6,432.3 L370.5,431.9 L371.4,431.4 L372.3,430.9 L373.1,430.5 L374.0,430.0 L374.9,429.6 L375.8,429.2 L376.7,428.7 L377.7,428.3 L378.6,427.9 L379.5,427.5 L380.4,427.1 L381.3,426.7 L382.3,426.4 L383.2,426.0 L384.1,425.6 L385.1,425.3 L386.0,425.0 L387.0,424.6 L387.9,424.3 L388.9,424.0 L389.8,423.7 L390.8,423.4 L391.7,423.1 L392.7,422.8 L393.6,422.5 L394.6,422.2 L395.6,422.0 L396.6,421.7 L397.5,421.4 L398.5,421.2 L399.5,420.9 L400.5,420.7 L401.4,420.5 L402.4,420.3 L403.4,420.1 L404.4,419.8 L405.4,419.6 L406.4,419.4 L407.4,419.3 L408.4,419.1 L409.4,418.9 L410.4,418.7 L411.4,418.6 L412.4,418.4 L413.4,418.2 L414.4,418.1 L415.4,418.0 L416.4,417.8 L417.4,417.7 L418.4,417.6 L419.4,417.4 L420.4,417.3 L421.5,417.2 L422.5,417.1 L423.5,417.0 L424.5,416.9 L425.5,416.8 L426.5,416.7 L427.5,416.7 L428.6,416.6 L429.6,416.5 L430.6,416.4 L431.6,416.4 L432.6,416.3 L433.6,416.3 L434.7,416.2 L435.7,416.2 L436.7,416.1 L437.7,416.1 L438.7,416.1 L439.7,416.0 L440.8,416.0 L441.8,416.0 L442.8,416.0 L443.8,415.9 L444.8,415.9 L445.8,415.9 L446.9,415.9 L447.9,415.9 L448.9,415.9 L449.9,415.9 L450.9,415.9 L451.9,415.9 L452.9,415.9 L453.9,415.9 L454.9,416.0 L455.9,416.0 L456.9,416.0 L457.9,416.0 L458.9,416.1 L459.9,416.1 L460.9,416.1 L461.9,416.2 L462.9,416.2 L463.9,416.2 L464.9,416.3 L465.9,416.3 L466.9,416.4 L467.9,416.4 L468.9,416.5 L469.9,416.5 L470.9,416.6 L471.9,416.6 L472.9,416.7 L473.9,416.7 L474.9,416.8 L475.9,416.9 L476.9,416.9 L477.9,417.0 L478.9,417.0 L479.9,417.1 L480.9,417.2 L481.8,417.3 L482.8,417.3 L483.8,417.4 L484.8,417.5 L485.8,417.5 L486.8,417.6 L487.8,417.7 L488.8,417.8 L489.8,417.8 L490.8,417.9 L491.8,418.0 L492.8,418.1 L493.8,418.2 L494.8,418.2 L495.8,418.3 L496.8,418.4 L497.8,418.5 L498.8,418.6 L499.8,418.6 L500.8,418.7 L501.8,418.8 L502.8,418.9 L503.8,419.0 L504.8,419.0 L505.8,419.1 L506.8,419.2 L507.8,419.3 L508.8,419.4 L509.8,419.4 L510.9,419.5 L511.9,419.6 L512.9,419.7 L513.9,419.8 L514.9,419.8 L515.9,419.9 L517.0,420.0 L518.0,420.1 L519.0,420.1 L520.0,420.2 L521.1,420.3 L522.1,420.3 L523.1,420.4 L524.1,420.5 L525.2,420.5 L526.2,420.6 L527.2,420.7 L528.3,420.7 L529.3,420.8 L530.4,420.9 L531.4,420.9 L532.4,421.0 L533.5,421.0 L534.5,421.0 L535.6,421.1 L536.6,421.1 L537.6,421.2 L538.7,421.2 L539.7,421.2 L540.8,421.2 L541.8,421.2 L542.8,421.2 L543.9,421.2 L544.9,421.2 L546.0,421.2 L547.0,421.2 L548.0,421.1 L549.0,421.1 L550.1,421.0 L551.1,421.0 L552.1,420.9 L553.1,420.8 L554.1,420.7 L555.2,420.6 L556.2,420.5 L557.2,420.4 L558.2,420.3 L559.2,420.1 L560.2,420.0 L561.1,419.8 L562.1,419.6 L563.1,419.4 L564.1,419.2 L565.0,419.0 L566.0,418.8 L567.0,418.5 L567.9,418.3 L568.9,418.0 L569.8,417.7 L570.7,417.4 L571.7,417.1 L572.6,416.7 L573.5,416.4 L574.4,416.0 L575.3,415.6 L576.2,415.2 L577.1,414.8 L578.0,414.4 L578.8,413.9 L579.7,413.4 L580.6,412.9 L581.4,412.4 L582.2,411.9 L583.1,411.3 L583.9,410.8 L584.7,410.2 L585.5,409.6 L586.3,409.0 L587.1,408.4 L587.9,407.8 L588.7,407.1 L589.5,406.5 L590.3,405.8 L591.1,405.2 L591.9,404.5 L592.7,403.8 L593.4,403.2 L594.2,402.5 L595.0,401.8 L595.8,401.1 L596.5,400.4 L597.3,399.7 L598.1,399.1 L598.9,398.4 L599.6,397.7 L600.4,397.0 L601.2,396.4 L602.0,395.7 L602.8,395.0 L603.6,394.4 L604.4,393.7 L605.2,393.1 L606.0,392.5 L606.8,391.8 L607.6,391.2 L608.4,390.6 L609.3,390.1 L610.1,389.5 L610.9,388.9 L611.8,388.4 L612.6,387.9 L613.5,387.4 L614.4,386.9 L615.3,386.4 L616.1,386.0 L617.0,385.6 L618.0,385.2 L618.9,384.8 L619.8,384.5 L620.7,384.2 L621.6,383.9 L622.5,383.7 L623.4,383.6 L624.4,383.4 L625.3,383.4 L626.2,383.4 L627.0,383.4 L627.9,383.5 L628.8,383.6 L629.7,383.9 L630.5,384.2 L631.3,384.5 L632.2,385.0 L633.0,385.4 L633.7,386.0 L634.5,386.6 L635.3,387.3 L636.0,388.0 L636.7,388.7 L637.4,389.5 L638.1,390.3 L638.8,391.1 L639.4,391.9 L640.1,392.7 L640.7,393.6 L641.3,394.4 L641.9,395.3 L642.5,396.1 L643.0,397.0 L643.6,397.9 L644.1,398.7 L644.7,399.6 L645.2,400.5 L645.7,401.4 L646.1,402.3 L646.6,403.2 L647.1,404.1 L647.5,405.1 L648.0,406.0 L648.4,406.9 L648.8,407.9 L649.2,408.8 L649.6,409.7 L650.0,410.7 L650.4,411.6 L650.8,412.6 L651.2,413.5 L651.5,414.5 L651.9,415.5 L652.2,416.4 L652.6,417.4 L652.9,418.4 L653.3,419.3 L653.6,420.3 L653.9,421.3 L654.2,422.3 L654.5,423.2 L654.9,424.2 L655.2,425.2 L655.5,426.2 L655.8,427.2 L656.1,428.1 L656.4,429.1 L656.7,430.1 L657.0,431.1 L657.3,432.1 L657.6,433.0 L657.9,434.0 L658.2,435.0 L658.5,435.9 L658.8,436.9 L659.1,437.9 L659.5,438.8 L659.8,439.8 L660.1,440.8 L660.4,441.7 L660.7,442.7 L661.1,443.6 L661.4,444.6 L661.7,445.5 L662.0,446.5 L662.4,447.4 L662.7,448.4 L663.1,449.3 L663.4,450.2 L663.7,451.2 L664.1,452.1 L664.4,453.1 L664.8,454.0 L665.1,454.9 L665.5,455.9 L665.8,456.8 L666.2,457.7 L666.6,458.6 L666.9,459.6 L667.3,460.5 L667.6,461.4 L668.0,462.3 L668.4,463.3 L668.7,464.2 L669.1,465.1 L669.5,466.0 L669.8,467.0 L670.2,467.9 L670.6,468.8 L671.0,469.7 L671.3,470.7 L671.7,471.6 L672.1,472.5 L672.4,473.4 L672.8,474.4 L673.2,475.3 L673.6,476.2 L674.0,477.1 L674.3,478.1 L674.7,479.0 L675.1,479.9 L675.5,480.8 L675.9,481.8 L676.2,482.7 L676.6,483.6 L677.0,484.6 L677.4,485.5 L677.7,486.5 L678.1,487.4 L678.5,488.3 L678.9,489.3 L679.3,490.2 L679.6,491.2 L680.0,492.1 L680.4,493.1 L680.8,494.0 L681.1,495.0 L681.5,495.9 L681.9,496.9 L682.3,497.8 L682.7,498.8 L683.0,499.8 L683.4,500.7 L683.8,501.7 L684.2,502.7 L684.5,503.6 L684.9,504.6 L685.3,505.6 L685.7,506.5 L686.1,507.5 L686.5,508.4 L686.9,509.4 L687.3,510.3 L687.7,511.3 L688.1,512.2 L688.5,513.2 L688.9,514.1 L689.4,515.1 L689.8,516.0 L690.2,516.9 L690.7,517.8 L691.1,518.7 L691.6,519.7 L692.0,520.6 L692.5,521.5 L693.0,522.3 L693.5,523.2 L694.0,524.1 L694.5,525.0 L695.0,525.8 L695.5,526.7 L696.1,527.5 L696.6,528.4 L697.1,529.2 L697.7,530.0 L698.3,530.8 L698.9,531.6 L699.5,532.4 L700.1,533.1 L700.7,533.9 L701.3,534.7 L702.0,535.4 L702.6,536.1 L703.3,536.8 L704.0,537.5 L704.7,538.2 L705.4,538.9 L706.1,539.5 L706.9,540.2 L707.6,540.8 L708.4,541.4 L709.2,542.0 L710.0,542.6 L710.8,543.2 L711.7,543.7 L712.5,544.3 L713.4,544.8 L714.3,545.3 L715.2,545.8 L716.1,546.2 L717.0,546.7 L718.0,547.1 L718.9,547.5 L719.9,547.9 L720.8,548.3 L721.8,548.6 L722.8,549.0 L723.8,549.3 L724.8,549.6 L725.8,549.9 L726.8,550.1 L727.8,550.4 L728.8,550.6 L729.9,550.8 L730.9,550.8 L731.9,550.8 L732.9,550.8 L734.0,550.8 L735.0,550.8 L736.0,550.8 L737.0,550.8 L738.0,550.8 L739.1,550.8 L740.1,550.8 L741.1,550.8 L742.1,550.8 L743.0,550.8 L744.0,550.8 L745.0,550.8 L792.3,550.8" stroke="#b97df8" stroke-dasharray="8.2 11.6"/>
<path d="M128.3,550.8 L195.0,550.8 L196.2,550.8 L197.3,550.8 L198.5,550.8 L199.6,550.8 L200.8,550.8 L201.9,550.8 L203.1,550.8 L204.2,550.7 L205.3,550.6 L206.4,550.5 L207.5,550.4 L208.6,550.2 L209.7,550.1 L210.8,549.9 L211.8,549.6 L212.9,549.4 L214.0,549.2 L215.0,548.9 L216.1,548.6 L217.1,548.3 L218.2,548.0 L219.2,547.7 L220.2,547.3 L221.2,547.0 L222.2,546.6 L223.3,546.2 L224.3,545.8 L225.3,545.4 L226.3,545.0 L227.2,544.5 L228.2,544.1 L229.2,543.6 L230.2,543.2 L231.2,542.7 L232.1,542.2 L233.1,541.7 L234.1,541.1 L235.0,540.6 L236.0,540.1 L236.9,539.5 L237.8,538.9 L238.8,538.4 L239.7,537.8 L240.7,537.2 L241.6,536.6 L242.5,536.0 L243.4,535.4 L244.4,534.8 L245.3,534.2 L246.2,533.5 L247.1,532.9 L248.0,532.3 L248.9,531.6 L249.8,531.0 L250.7,530.3 L251.7,529.7 L252.6,529.0 L253.5,528.3 L254.3,527.7 L255.2,527.0 L256.1,526.3 L257.0,525.6 L257.9,525.0 L258.8,524.3 L259.7,523.6 L260.6,522.9 L261.5,522.2 L262.4,521.5 L263.3,520.9 L264.1,520.2 L265.0,519.5 L265.9,518.8 L266.8,518.1 L267.7,517.5 L268.6,516.8 L269.5,516.1 L270.3,515.4 L271.2,514.7 L272.1,514.1 L273.0,513.4 L273.9,512.7 L274.8,512.1 L275.7,511.4 L276.5,510.7 L277.4,510.1 L278.3,509.4 L279.2,508.7 L280.1,508.1 L281.0,507.4 L281.9,506.7 L282.8,506.1 L283.7,505.4 L284.5,504.8 L285.4,504.1 L286.3,503.5 L287.2,502.8 L288.1,502.2 L289.0,501.5 L289.9,500.9 L290.8,500.2 L291.7,499.6 L292.6,499.0 L293.5,498.3 L294.4,497.7 L295.3,497.1 L296.2,496.5 L297.1,495.8 L298.0,495.2 L298.9,494.6 L299.8,494.0 L300.7,493.3 L301.6,492.7 L302.6,492.1 L303.5,491.5 L304.4,490.9 L305.3,490.3 L306.2,489.7 L307.2,489.1 L308.1,488.5 L309.0,487.9 L309.9,487.3 L310.9,486.8 L311.8,486.2 L312.7,485.6 L313.7,485.0 L314.6,484.5 L315.5,483.9 L316.5,483.3 L317.4,482.8 L318.4,482.2 L319.3,481.6 L320.3,481.1 L321.2,480.5 L322.2,480.0 L323.1,479.5 L324.1,478.9 L325.1,478.4 L326.0,477.9 L327.0,477.3 L328.0,476.8 L328.9,476.3 L329.9,475.8 L330.9,475.3 L331.9,474.8 L332.9,474.3 L333.9,473.8 L334.8,473.3 L335.8,472.8 L336.8,472.3 L337.8,471.8 L338.8,471.3 L339.8,470.8 L340.8,470.3 L341.8,469.9 L342.8,469.4 L343.8,468.9 L344.8,468.4 L345.8,467.9 L346.8,467.4 L347.8,466.9 L348.8,466.4 L349.7,465.9 L350.7,465.4 L351.7,464.8 L352.6,464.3 L353.6,463.7 L354.5,463.2 L355.5,462.6 L356.4,462.0 L357.3,461.5 L358.2,460.8 L359.1,460.2 L360.0,459.6 L360.9,459.0 L361.7,458.3 L362.6,457.6 L363.4,456.9 L364.3,456.2 L365.1,455.5 L365.9,454.8 L366.7,454.0 L367.4,453.2 L368.2,452.5 L368.9,451.7 L369.7,450.8 L370.4,450.0 L371.1,449.2 L371.8,448.3 L372.5,447.5 L373.2,446.6 L373.9,445.7 L374.6,444.8 L375.2,443.9 L375.9,443.0 L376.5,442.1 L377.1,441.1 L377.7,440.2 L378.3,439.2 L378.9,438.3 L379.5,437.3 L380.1,436.3 L380.7,435.4 L381.2,434.4 L381.8,433.4 L382.3,432.4 L382.9,431.4 L383.4,430.4 L384.0,429.4 L384.5,428.4 L385.0,427.4 L385.5,426.4 L386.0,425.3 L386.5,424.3 L387.0,423.3 L387.5,422.3 L387.9,421.3 L388.4,420.3 L388.9,419.2 L389.4,418.2 L389.8,417.2 L390.3,416.2 L390.7,415.2 L391.2,414.1 L391.6,413.1 L392.0,412.1 L392.5,411.1 L392.9,410.0 L393.3,409.0 L393.7,408.0 L394.1,406.9 L394.6,405.9 L395.0,404.9 L395.4,403.9 L395.8,402.8 L396.2,401.8 L396.6,400.8 L396.9,399.7 L397.3,398.7 L397.7,397.7 L398.1,396.6 L398.5,395.6 L398.9,394.6 L399.2,393.5 L399.6,392.5 L400.0,391.5 L400.4,390.4 L400.7,389.4 L401.1,388.3 L401.5,387.3 L401.8,386.3 L402.2,385.2 L402.6,384.2 L402.9,383.2 L403.3,382.1 L403.6,381.1 L404.0,380.0 L404.4,379.0 L404.7,378.0 L405.1,376.9 L405.4,375.9 L405.8,374.9 L406.2,373.8 L406.5,372.8 L406.9,371.8 L407.3,370.7 L407.6,369.7 L408.0,368.7 L408.4,367.6 L408.7,366.6 L409.1,365.6 L409.5,364.5 L409.8,363.5 L410.2,362.5 L410.6,361.4 L411.0,360.4 L411.3,359.4 L411.7,358.4 L412.1,357.3 L412.5,356.3 L412.9,355.3 L413.3,354.2 L413.7,353.2 L414.1,352.2 L414.5,351.2 L414.9,350.2 L415.3,349.1 L415.7,348.1 L416.1,347.1 L416.5,346.1 L416.9,345.1 L417.4,344.0 L417.8,343.0 L418.2,342.0 L418.7,341.0 L419.1,340.0 L419.6,339.0 L420.0,338.0 L420.5,337.0 L420.9,336.0 L421.4,335.0 L421.9,334.0 L422.4,333.0 L422.8,332.0 L423.3,331.0 L423.8,330.0 L424.3,329.0 L424.8,328.0 L425.4,327.0 L425.9,326.0 L426.4,325.0 L426.9,324.0 L427.5,323.0 L428.0,322.0 L428.6,321.1 L429.1,320.1 L429.7,319.1 L430.3,318.1 L430.9,317.1 L431.5,316.2 L432.1,315.2 L432.7,314.2 L433.3,313.3 L433.9,312.3 L434.5,311.3 L435.2,310.4 L435.8,309.4 L436.5,308.5 L437.2,307.6 L437.9,306.7 L438.6,305.8 L439.3,305.0 L440.1,304.2 L440.8,303.4 L441.6,302.7 L442.4,302.0 L443.2,301.4 L444.0,300.8 L444.9,300.2 L445.8,299.7 L446.7,299.3 L447.7,298.9 L448.6,298.6 L449.6,298.4 L450.7,298.2 L451.7,298.1 L452.7,298.0 L453.8,298.0 L454.9,298.1 L456.0,298.2 L457.0,298.3 L458.1,298.5 L459.2,298.8 L460.2,299.1 L461.2,299.4 L462.3,299.8 L463.3,300.2 L464.3,300.6 L465.3,301.1 L466.2,301.6 L467.2,302.1 L468.2,302.7 L469.1,303.3 L470.1,303.9 L471.0,304.5 L471.9,305.2 L472.8,305.9 L473.7,306.5 L474.6,307.2 L475.5,308.0 L476.4,308.7 L477.3,309.4 L478.1,310.1 L479.0,310.9 L479.9,311.6 L480.7,312.4 L481.6,313.1 L482.4,313.9 L483.2,314.6 L484.1,315.4 L484.9,316.1 L485.7,316.9 L486.6,317.7 L487.4,318.4 L488.2,319.2 L489.0,320.0 L489.8,320.8 L490.6,321.6 L491.4,322.3 L492.2,323.1 L492.9,323.9 L493.7,324.7 L494.5,325.5 L495.3,326.3 L496.0,327.1 L496.8,327.9 L497.5,328.8 L498.3,329.6 L499.0,330.4 L499.8,331.2 L500.5,332.0 L501.3,332.9 L502.0,333.7 L502.7,334.5 L503.5,335.4 L504.2,336.2 L504.9,337.0 L505.6,337.9 L506.3,338.7 L507.0,339.6 L507.7,340.4 L508.4,341.3 L509.1,342.1 L509.8,343.0 L510.5,343.8 L511.2,344.7 L511.9,345.6 L512.6,346.4 L513.2,347.3 L513.9,348.2 L514.6,349.0 L515.3,349.9 L515.9,350.8 L516.6,351.6 L517.2,352.5 L517.9,353.4 L518.6,354.3 L519.2,355.2 L519.9,356.1 L520.5,357.0 L521.2,357.8 L521.8,358.7 L522.4,359.6 L523.1,360.5 L523.7,361.4 L524.4,362.3 L525.0,363.2 L525.6,364.1 L526.2,365.0 L526.9,365.9 L527.5,366.8 L528.1,367.7 L528.7,368.6 L529.4,369.6 L530.0,370.5 L530.6,371.4 L531.2,372.3 L531.8,373.2 L532.4,374.1 L533.1,375.0 L533.7,376.0 L534.3,376.9 L534.9,377.8 L535.5,378.7 L536.1,379.6 L536.7,380.6 L537.3,381.5 L537.9,382.4 L538.5,383.3 L539.1,384.3 L539.7,385.2 L540.3,386.1 L540.9,387.0 L541.5,388.0 L542.1,388.9 L542.7,389.8 L543.3,390.7 L543.9,391.7 L544.5,392.6 L545.1,393.5 L545.7,394.5 L546.3,395.4 L546.9,396.3 L547.5,397.3 L548.1,398.2 L548.7,399.1 L549.3,400.1 L549.8,401.0 L550.4,401.9 L551.0,402.9 L551.6,403.8 L552.2,404.7 L552.8,405.7 L553.4,406.6 L554.0,407.5 L554.6,408.5 L555.2,409.4 L555.8,410.3 L556.4,411.3 L557.0,412.2 L557.6,413.1 L558.2,414.1 L558.8,415.0 L559.4,415.9 L560.0,416.9 L560.6,417.8 L561.2,418.7 L561.8,419.7 L562.4,420.6 L563.0,421.5 L563.6,422.5 L564.2,423.4 L564.8,424.3 L565.4,425.2 L566.0,426.2 L566.6,427.1 L567.2,428.0 L567.8,429.0 L568.4,429.9 L569.0,430.8 L569.6,431.7 L570.2,432.7 L570.8,433.6 L571.4,434.5 L572.1,435.4 L572.7,436.3 L573.3,437.3 L573.9,438.2 L574.5,439.1 L575.1,440.0 L575.8,440.9 L576.4,441.9 L577.0,442.8 L577.6,443.7 L578.3,444.6 L578.9,445.5 L579.5,446.4 L580.1,447.3 L580.8,448.2 L581.4,449.1 L582.0,450.0 L582.7,451.0 L583.3,451.9 L583.9,452.8 L584.6,453.7 L585.2,454.6 L585.9,455.5 L586.5,456.3 L587.2,457.2 L587.8,458.1 L588.5,459.0 L589.1,459.9 L589.8,460.8 L590.4,461.7 L591.1,462.6 L591.7,463.5 L592.4,464.3 L593.1,465.2 L593.7,466.1 L594.4,467.0 L595.1,467.9 L595.8,468.7 L596.4,469.6 L597.1,470.5 L597.8,471.3 L598.5,472.2 L599.2,473.1 L599.8,473.9 L600.5,474.8 L601.2,475.6 L601.9,476.5 L602.6,477.4 L603.3,478.2 L604.0,479.1 L604.7,479.9 L605.4,480.7 L606.1,481.6 L606.9,482.4 L607.6,483.3 L608.3,484.1 L609.0,484.9 L609.7,485.8 L610.5,486.6 L611.2,487.4 L611.9,488.3 L612.6,489.1 L613.4,489.9 L614.1,490.7 L614.9,491.5 L615.6,492.3 L616.4,493.1 L617.1,494.0 L617.9,494.8 L618.6,495.6 L619.4,496.4 L620.2,497.2 L620.9,497.9 L621.7,498.7 L622.5,499.5 L623.3,500.3 L624.0,501.1 L624.8,501.9 L625.6,502.6 L626.4,503.4 L627.2,504.2 L628.0,505.0 L628.8,505.7 L629.6,506.5 L630.4,507.2 L631.2,508.0 L632.1,508.7 L632.9,509.5 L633.7,510.2 L634.5,511.0 L635.4,511.7 L636.2,512.5 L637.0,513.2 L637.9,513.9 L638.7,514.6 L639.6,515.4 L640.4,516.1 L641.3,516.8 L642.2,517.5 L643.0,518.2 L643.9,518.9 L644.8,519.6 L645.7,520.3 L646.5,521.0 L647.4,521.7 L648.3,522.4 L649.2,523.0 L650.1,523.7 L651.0,524.4 L651.9,525.0 L652.8,525.7 L653.7,526.3 L654.6,527.0 L655.6,527.6 L656.5,528.3 L657.4,528.9 L658.3,529.5 L659.3,530.1 L660.2,530.7 L661.1,531.3 L662.1,531.9 L663.0,532.5 L664.0,533.1 L664.9,533.7 L665.9,534.2 L666.9,534.8 L667.8,535.3 L668.8,535.9 L669.7,536.4 L670.7,536.9 L671.7,537.5 L672.7,538.0 L673.7,538.5 L674.6,539.0 L675.6,539.5 L676.6,540.0 L677.6,540.4 L678.6,540.9 L679.6,541.4 L680.6,541.8 L681.6,542.2 L682.7,542.7 L683.7,543.1 L684.7,543.5 L685.7,543.9 L686.7,544.3 L687.8,544.7 L688.8,545.0 L689.8,545.4 L690.9,545.8 L691.9,546.1 L692.9,546.4 L694.0,546.8 L695.0,547.1 L696.1,547.4 L697.1,547.7 L698.2,547.9 L699.2,548.2 L700.3,548.5 L701.4,548.7 L702.4,548.9 L703.5,549.2 L704.6,549.4 L705.7,549.6 L706.7,549.8 L707.8,549.9 L708.9,550.1 L710.0,550.3 L711.1,550.4 L712.2,550.5 L713.3,550.6 L714.4,550.8 L715.5,550.8 L716.6,550.8 L717.7,550.8 L718.8,550.8 L719.9,550.8 L721.0,550.8 L722.1,550.8 L723.2,550.8 L724.4,550.8 L725.5,550.8 L726.6,550.8 L727.7,550.8 L728.9,550.8 L730.0,550.8 L792.3,550.8" stroke="#ff8000"/>
<path d="M128.3,550.8 L185.0,550.8 L186.4,550.8 L187.7,550.8 L189.0,550.8 L190.3,550.6 L191.5,550.4 L192.7,550.1 L193.9,549.7 L195.0,549.3 L196.0,548.9 L197.1,548.3 L198.1,547.7 L199.1,547.1 L200.0,546.4 L200.9,545.7 L201.8,544.9 L202.6,544.1 L203.5,543.3 L204.3,542.4 L205.1,541.5 L205.8,540.5 L206.5,539.6 L207.3,538.6 L208.0,537.6 L208.6,536.6 L209.3,535.5 L210.0,534.5 L210.6,533.4 L211.2,532.3 L211.9,531.3 L212.5,530.2 L213.1,529.1 L213.6,528.0 L214.2,526.9 L214.8,525.8 L215.4,524.8 L215.9,523.7 L216.5,522.6 L217.0,521.5 L217.5,520.4 L218.0,519.3 L218.5,518.2 L219.0,517.1 L219.5,515.9 L220.0,514.8 L220.5,513.7 L221.0,512.6 L221.4,511.5 L221.9,510.4 L222.3,509.2 L222.8,508.1 L223.2,507.0 L223.6,505.9 L224.0,504.7 L224.4,503.6 L224.8,502.4 L225.2,501.3 L225.6,500.2 L226.0,499.0 L226.4,497.9 L226.8,496.7 L227.1,495.6 L227.5,494.4 L227.8,493.3 L228.2,492.1 L228.5,491.0 L228.9,489.8 L229.2,488.7 L229.5,487.5 L229.9,486.4 L230.2,485.2 L230.5,484.0 L230.8,482.9 L231.1,481.7 L231.4,480.5 L231.7,479.4 L232.0,478.2 L232.3,477.0 L232.6,475.9 L232.8,474.7 L233.1,473.5 L233.4,472.3 L233.7,471.2 L233.9,470.0 L234.2,468.8 L234.5,467.6 L234.7,466.4 L235.0,465.3 L235.2,464.1 L235.5,462.9 L235.7,461.7 L236.0,460.5 L236.2,459.4 L236.4,458.2 L236.7,457.0 L236.9,455.8 L237.2,454.6 L237.4,453.4 L237.6,452.2 L237.9,451.0 L238.1,449.8 L238.3,448.7 L238.5,447.5 L238.8,446.3 L239.0,445.1 L239.2,443.9 L239.4,442.7 L239.7,441.5 L239.9,440.3 L240.1,439.1 L240.3,437.9 L240.5,436.7 L240.8,435.5 L241.0,434.3 L241.2,433.1 L241.4,432.0 L241.6,430.8 L241.8,429.6 L242.1,428.4 L242.3,427.2 L242.5,426.0 L242.7,424.8 L242.9,423.6 L243.1,422.4 L243.3,421.2 L243.5,420.0 L243.7,418.8 L243.9,417.6 L244.1,416.4 L244.3,415.2 L244.6,414.0 L244.8,412.8 L245.0,411.6 L245.2,410.4 L245.4,409.2 L245.6,408.0 L245.8,406.8 L246.0,405.6 L246.2,404.4 L246.4,403.2 L246.6,402.0 L246.8,400.8 L247.0,399.6 L247.2,398.4 L247.4,397.2 L247.6,396.0 L247.8,394.8 L247.9,393.6 L248.1,392.4 L248.3,391.1 L248.5,389.9 L248.7,388.7 L248.9,387.5 L249.1,386.3 L249.3,385.1 L249.5,383.9 L249.7,382.7 L249.9,381.5 L250.1,380.3 L250.3,379.1 L250.5,377.9 L250.7,376.7 L250.9,375.5 L251.1,374.3 L251.2,373.1 L251.4,371.9 L251.6,370.7 L251.8,369.5 L252.0,368.3 L252.2,367.1 L252.4,365.9 L252.6,364.7 L252.8,363.5 L253.0,362.3 L253.2,361.1 L253.4,359.9 L253.6,358.7 L253.8,357.5 L253.9,356.3 L254.1,355.1 L254.3,353.9 L254.5,352.7 L254.7,351.5 L254.9,350.3 L255.1,349.1 L255.3,347.9 L255.5,346.7 L255.7,345.5 L255.9,344.3 L256.1,343.1 L256.3,341.9 L256.5,340.7 L256.7,339.5 L256.9,338.3 L257.1,337.1 L257.3,335.9 L257.5,334.7 L257.7,333.5 L257.9,332.3 L258.1,331.1 L258.3,329.9 L258.5,328.7 L258.7,327.5 L258.9,326.3 L259.1,325.1 L259.3,323.9 L259.5,322.7 L259.7,321.5 L259.9,320.4 L260.1,319.2 L260.3,318.0 L260.5,316.8 L260.7,315.6 L260.9,314.4 L261.1,313.2 L261.4,312.0 L261.6,310.8 L261.8,309.6 L262.0,308.5 L262.2,307.3 L262.4,306.1 L262.6,304.9 L262.9,303.7 L263.1,302.5 L263.3,301.3 L263.5,300.2 L263.7,299.0 L263.9,297.8 L264.2,296.6 L264.4,295.4 L264.6,294.2 L264.8,293.1 L265.1,291.9 L265.3,290.7 L265.5,289.5 L265.7,288.3 L266.0,287.2 L266.2,286.0 L266.4,284.8 L266.7,283.6 L266.9,282.5 L267.1,281.3 L267.4,280.1 L267.6,278.9 L267.8,277.8 L268.1,276.6 L268.3,275.4 L268.6,274.2 L268.8,273.1 L269.1,271.9 L269.3,270.7 L269.6,269.6 L269.8,268.4 L270.1,267.2 L270.3,266.1 L270.6,264.9 L270.8,263.7 L271.1,262.6 L271.4,261.4 L271.6,260.2 L271.9,259.0 L272.2,257.9 L272.4,256.7 L272.7,255.5 L273.0,254.3 L273.3,253.2 L273.6,252.0 L273.9,250.8 L274.2,249.6 L274.5,248.4 L274.8,247.3 L275.1,246.1 L275.4,244.9 L275.7,243.7 L276.0,242.5 L276.4,241.3 L276.7,240.1 L277.0,238.9 L277.4,237.7 L277.7,236.5 L278.1,235.3 L278.4,234.1 L278.8,232.9 L279.1,231.7 L279.5,230.5 L279.9,229.2 L280.3,228.0 L280.6,226.8 L281.0,225.6 L281.4,224.3 L281.8,223.1 L282.3,221.9 L282.7,220.7 L283.2,219.4 L283.6,218.3 L284.1,217.1 L284.6,216.0 L285.2,214.8 L285.7,213.8 L286.3,212.7 L286.9,211.7 L287.6,210.7 L288.3,209.8 L289.0,209.0 L289.8,208.1 L290.6,207.4 L291.5,206.7 L292.4,206.1 L293.3,205.5 L294.3,205.0 L295.4,204.6 L296.4,204.3 L297.5,204.1 L298.6,204.1 L299.6,204.2 L300.6,204.5 L301.6,204.9 L302.6,205.5 L303.5,206.2 L304.3,207.0 L305.2,207.8 L306.0,208.6 L306.8,209.5 L307.6,210.4 L308.3,211.3 L309.0,212.3 L309.7,213.2 L310.4,214.2 L311.1,215.2 L311.7,216.2 L312.3,217.3 L312.9,218.3 L313.5,219.4 L314.1,220.5 L314.7,221.5 L315.2,222.6 L315.8,223.8 L316.3,224.9 L316.8,226.0 L317.3,227.1 L317.8,228.3 L318.3,229.4 L318.8,230.6 L319.3,231.7 L319.7,232.9 L320.2,234.0 L320.7,235.2 L321.2,236.3 L321.6,237.5 L322.1,238.6 L322.5,239.8 L323.0,240.9 L323.5,242.1 L323.9,243.2 L324.4,244.3 L324.8,245.5 L325.3,246.6 L325.7,247.8 L326.2,248.9 L326.6,250.0 L327.1,251.2 L327.5,252.3 L328.0,253.5 L328.4,254.6 L328.9,255.7 L329.3,256.9 L329.8,258.0 L330.2,259.1 L330.7,260.3 L331.1,261.4 L331.6,262.5 L332.0,263.7 L332.4,264.8 L332.9,265.9 L333.3,267.0 L333.8,268.2 L334.2,269.3 L334.7,270.4 L335.1,271.5 L335.5,272.7 L336.0,273.8 L336.4,274.9 L336.9,276.0 L337.3,277.1 L337.8,278.3 L338.2,279.4 L338.7,280.5 L339.1,281.6 L339.6,282.7 L340.0,283.8 L340.5,285.0 L340.9,286.1 L341.4,287.2 L341.8,288.3 L342.3,289.4 L342.7,290.5 L343.2,291.6 L343.7,292.7 L344.1,293.8 L344.6,295.0 L345.1,296.1 L345.5,297.2 L346.0,298.3 L346.5,299.4 L346.9,300.5 L347.4,301.6 L347.9,302.7 L348.4,303.8 L348.9,304.9 L349.4,306.0 L349.8,307.1 L350.3,308.2 L350.8,309.3 L351.3,310.4 L351.8,311.5 L352.3,312.6 L352.8,313.7 L353.3,314.8 L353.8,315.9 L354.4,317.0 L354.9,318.1 L355.4,319.2 L355.9,320.2 L356.5,321.3 L357.0,322.4 L357.5,323.5 L358.1,324.6 L358.6,325.7 L359.1,326.8 L359.7,327.9 L360.2,329.0 L360.8,330.0 L361.3,331.1 L361.9,332.2 L362.5,333.3 L363.0,334.4 L363.6,335.5 L364.1,336.6 L364.7,337.6 L365.3,338.7 L365.9,339.8 L366.4,340.9 L367.0,342.0 L367.6,343.0 L368.2,344.1 L368.7,345.2 L369.3,346.3 L369.9,347.3 L370.5,348.4 L371.1,349.5 L371.7,350.6 L372.3,351.6 L372.8,352.7 L373.4,353.8 L374.0,354.8 L374.6,355.9 L375.2,357.0 L375.8,358.0 L376.4,359.1 L377.0,360.2 L377.6,361.2 L378.2,362.3 L378.7,363.4 L379.3,364.4 L379.9,365.5 L380.5,366.6 L381.1,367.6 L381.7,368.7 L382.3,369.7 L383.0,370.7 L383.6,371.8 L384.2,372.8 L384.9,373.8 L385.5,374.8 L386.2,375.8 L386.9,376.8 L387.6,377.8 L388.3,378.8 L389.0,379.7 L389.7,380.7 L390.5,381.6 L391.2,382.5 L392.0,383.4 L392.8,384.3 L393.6,385.2 L394.4,386.1 L395.3,387.0 L396.1,387.9 L396.9,388.8 L397.8,389.6 L398.6,390.5 L399.5,391.3 L400.4,392.2 L401.3,393.0 L402.1,393.8 L403.0,394.7 L403.9,395.5 L404.8,396.3 L405.7,397.2 L406.6,398.0 L407.5,398.8 L408.4,399.6 L409.3,400.4 L410.2,401.3 L411.1,402.1 L412.0,402.9 L412.9,403.7 L413.8,404.5 L414.7,405.4 L415.6,406.2 L416.5,407.0 L417.4,407.9 L418.3,408.7 L419.1,409.6 L420.0,410.4 L420.9,411.3 L421.7,412.1 L422.6,413.0 L423.4,413.9 L424.2,414.8 L425.0,415.7 L425.8,416.6 L426.6,417.5 L427.4,418.4 L428.2,419.3 L428.9,420.2 L429.7,421.2 L430.4,422.1 L431.2,423.1 L431.9,424.0 L432.6,425.0 L433.3,426.0 L434.0,426.9 L434.7,427.9 L435.4,428.9 L436.1,429.9 L436.8,430.9 L437.4,431.9 L438.1,432.9 L438.7,433.9 L439.4,434.9 L440.0,435.9 L440.7,437.0 L441.3,438.0 L441.9,439.0 L442.5,440.1 L443.1,441.1 L443.8,442.2 L444.4,443.2 L445.0,444.3 L445.5,445.3 L446.1,446.4 L446.7,447.5 L447.3,448.5 L447.9,449.6 L448.5,450.7 L449.0,451.7 L449.6,452.8 L450.2,453.9 L450.7,455.0 L451.3,456.1 L451.9,457.2 L452.4,458.2 L453.0,459.3 L453.5,460.4 L454.1,461.5 L454.7,462.6 L455.2,463.7 L455.8,464.8 L456.3,465.9 L456.9,467.0 L457.4,468.1 L458.0,469.1 L458.5,470.2 L459.1,471.3 L459.6,472.4 L460.2,473.5 L460.7,474.6 L461.3,475.7 L461.8,476.8 L462.4,477.9 L463.0,479.0 L463.5,480.0 L464.1,481.1 L464.7,482.2 L465.2,483.3 L465.8,484.4 L466.4,485.4 L467.0,486.5 L467.6,487.6 L468.1,488.6 L468.7,489.7 L469.3,490.8 L469.9,491.8 L470.5,492.9 L471.1,493.9 L471.8,495.0 L472.4,496.0 L473.0,497.1 L473.6,498.1 L474.3,499.1 L474.9,500.1 L475.6,501.2 L476.2,502.2 L476.9,503.2 L477.5,504.2 L478.2,505.2 L478.9,506.2 L479.6,507.2 L480.3,508.2 L481.0,509.2 L481.7,510.1 L482.4,511.1 L483.2,512.1 L483.9,513.0 L484.6,514.0 L485.4,514.9 L486.2,515.8 L486.9,516.8 L487.7,517.7 L488.5,518.6 L489.3,519.5 L490.1,520.4 L491.0,521.3 L491.8,522.2 L492.6,523.0 L493.5,523.9 L494.3,524.8 L495.2,525.6 L496.1,526.4 L497.0,527.3 L497.9,528.1 L498.8,528.9 L499.7,529.7 L500.6,530.5 L501.6,531.2 L502.5,532.0 L503.5,532.7 L504.4,533.5 L505.4,534.2 L506.4,534.9 L507.4,535.6 L508.4,536.2 L509.4,536.9 L510.4,537.6 L511.4,538.2 L512.5,538.8 L513.5,539.4 L514.6,540.0 L515.6,540.6 L516.7,541.1 L517.8,541.7 L518.9,542.2 L520.0,542.7 L521.1,543.2 L522.2,543.6 L523.3,544.1 L524.4,544.5 L525.6,544.9 L526.7,545.3 L527.9,545.7 L529.0,546.0 L530.2,546.4 L531.4,546.7 L532.5,547.0 L533.7,547.2 L534.9,547.5 L536.1,547.7 L537.4,547.9 L538.6,548.1 L539.8,548.3 L541.0,548.5 L542.2,548.7 L543.5,548.8 L544.7,548.9 L545.9,549.1 L547.2,549.2 L548.4,549.3 L549.7,549.4 L550.9,549.5 L552.1,549.6 L553.4,549.6 L554.6,549.7 L555.9,549.8 L557.1,549.8 L558.3,549.9 L559.5,549.9 L560.8,550.0 L562.0,550.0 L563.2,550.1 L564.4,550.1 L565.6,550.2 L566.8,550.3 L568.0,550.3 L569.2,550.4 L570.4,550.5 L571.5,550.5 L572.7,550.6 L573.9,550.7 L575.0,550.8 L792.3,550.8" stroke="#ff0000" stroke-dasharray="8.2 11.6"/>
<path d="M128.3,550.8 L250.0,550.8 L251.3,550.5 L252.6,550.3 L254.0,550.3 L255.3,550.3 L256.7,550.3 L258.1,550.3 L259.5,550.3 L260.9,550.3 L262.3,550.3 L263.8,550.3 L265.2,550.3 L266.7,550.3 L268.2,550.3 L269.6,550.3 L271.1,550.3 L272.6,550.3 L274.1,550.3 L275.6,550.3 L277.1,550.3 L278.6,550.3 L280.1,550.3 L281.6,550.3 L283.1,550.3 L284.6,550.3 L286.1,550.3 L287.5,550.3 L289.0,550.3 L290.5,550.2 L291.9,550.1 L293.4,550.0 L294.8,549.8 L296.2,549.6 L297.6,549.4 L299.0,549.1 L300.4,548.8 L301.8,548.4 L303.1,548.1 L304.5,547.6 L305.8,547.2 L307.1,546.7 L308.4,546.2 L309.7,545.6 L311.0,545.0 L312.2,544.4 L313.5,543.8 L314.7,543.1 L315.9,542.4 L317.1,541.6 L318.3,540.9 L319.5,540.1 L320.7,539.3 L321.8,538.5 L323.0,537.6 L324.1,536.7 L325.2,535.8 L326.3,534.9 L327.4,534.0 L328.4,533.0 L329.5,532.1 L330.5,531.1 L331.6,530.1 L332.6,529.0 L333.6,528.0 L334.5,527.0 L335.5,525.9 L336.5,524.8 L337.4,523.7 L338.3,522.6 L339.3,521.5 L340.2,520.4 L341.1,519.3 L341.9,518.2 L342.8,517.1 L343.6,515.9 L344.5,514.8 L345.3,513.6 L346.1,512.5 L346.9,511.3 L347.7,510.1 L348.5,508.9 L349.2,507.8 L350.0,506.6 L350.7,505.4 L351.4,504.2 L352.1,502.9 L352.8,501.7 L353.5,500.5 L354.2,499.3 L354.9,498.0 L355.5,496.8 L356.2,495.5 L356.8,494.3 L357.4,493.0 L358.0,491.8 L358.6,490.5 L359.2,489.2 L359.8,487.9 L360.4,486.7 L361.0,485.4 L361.5,484.1 L362.1,482.8 L362.6,481.5 L363.1,480.2 L363.7,478.9 L364.2,477.5 L364.7,476.2 L365.2,474.9 L365.7,473.6 L366.1,472.2 L366.6,470.9 L367.1,469.6 L367.5,468.2 L368.0,466.9 L368.4,465.5 L368.8,464.2 L369.3,462.8 L369.7,461.5 L370.1,460.1 L370.5,458.7 L370.9,457.4 L371.3,456.0 L371.7,454.6 L372.1,453.2 L372.5,451.9 L372.9,450.5 L373.2,449.1 L373.6,447.7 L373.9,446.3 L374.3,444.9 L374.7,443.5 L375.0,442.1 L375.3,440.8 L375.7,439.4 L376.0,438.0 L376.3,436.6 L376.7,435.2 L377.0,433.8 L377.3,432.4 L377.6,430.9 L377.9,429.5 L378.2,428.1 L378.5,426.7 L378.8,425.3 L379.1,423.9 L379.4,422.5 L379.7,421.1 L380.0,419.7 L380.3,418.3 L380.6,416.9 L380.9,415.5 L381.2,414.1 L381.5,412.6 L381.8,411.2 L382.0,409.8 L382.3,408.4 L382.6,407.0 L382.9,405.6 L383.2,404.2 L383.4,402.8 L383.7,401.4 L384.0,400.0 L384.3,398.6 L384.5,397.2 L384.8,395.7 L385.1,394.3 L385.3,392.9 L385.6,391.5 L385.9,390.1 L386.1,388.7 L386.4,387.3 L386.7,385.9 L386.9,384.5 L387.2,383.1 L387.5,381.7 L387.7,380.3 L388.0,378.9 L388.2,377.5 L388.5,376.1 L388.7,374.6 L389.0,373.2 L389.3,371.8 L389.5,370.4 L389.8,369.0 L390.0,367.6 L390.3,366.2 L390.5,364.8 L390.8,363.4 L391.0,362.0 L391.3,360.6 L391.5,359.2 L391.7,357.8 L392.0,356.4 L392.2,355.0 L392.5,353.6 L392.7,352.2 L393.0,350.8 L393.2,349.4 L393.5,348.0 L393.7,346.5 L393.9,345.1 L394.2,343.7 L394.4,342.3 L394.7,340.9 L394.9,339.5 L395.1,338.1 L395.4,336.7 L395.6,335.3 L395.8,333.9 L396.1,332.5 L396.3,331.1 L396.6,329.7 L396.8,328.3 L397.0,326.9 L397.3,325.5 L397.5,324.1 L397.7,322.7 L398.0,321.3 L398.2,319.9 L398.4,318.5 L398.7,317.1 L398.9,315.7 L399.1,314.3 L399.4,312.9 L399.6,311.5 L399.9,310.1 L400.1,308.7 L400.3,307.3 L400.6,305.9 L400.8,304.5 L401.0,303.1 L401.3,301.7 L401.5,300.3 L401.7,298.9 L402.0,297.5 L402.2,296.1 L402.4,294.7 L402.7,293.3 L402.9,291.9 L403.1,290.5 L403.4,289.1 L403.6,287.7 L403.8,286.3 L404.1,284.9 L404.3,283.5 L404.6,282.1 L404.8,280.7 L405.0,279.3 L405.3,277.9 L405.5,276.5 L405.7,275.1 L406.0,273.7 L406.2,272.3 L406.5,270.9 L406.7,269.5 L407.0,268.1 L407.2,266.7 L407.4,265.3 L407.7,263.9 L407.9,262.5 L408.2,261.1 L408.4,259.7 L408.7,258.3 L408.9,256.9 L409.2,255.5 L409.4,254.1 L409.7,252.7 L409.9,251.3 L410.2,249.9 L410.4,248.5 L410.7,247.1 L410.9,245.7 L411.2,244.3 L411.4,242.9 L411.7,241.5 L411.9,240.1 L412.2,238.7 L412.4,237.3 L412.7,235.9 L413.0,234.5 L413.2,233.1 L413.5,231.7 L413.7,230.3 L414.0,228.9 L414.3,227.5 L414.5,226.1 L414.8,224.7 L415.1,223.3 L415.3,221.9 L415.6,220.5 L415.9,219.1 L416.2,217.8 L416.4,216.4 L416.7,215.0 L417.0,213.6 L417.3,212.2 L417.5,210.8 L417.8,209.4 L418.1,208.0 L418.4,206.6 L418.7,205.2 L419.0,203.8 L419.2,202.4 L419.5,201.0 L419.8,199.6 L420.1,198.2 L420.4,196.8 L420.7,195.4 L421.0,194.0 L421.3,192.6 L421.6,191.2 L421.9,189.8 L422.2,188.5 L422.5,187.1 L422.8,185.7 L423.1,184.3 L423.4,182.9 L423.7,181.5 L424.1,180.1 L424.4,178.7 L424.7,177.3 L425.0,175.9 L425.4,174.5 L425.7,173.1 L426.1,171.7 L426.4,170.4 L426.8,169.0 L427.1,167.6 L427.5,166.2 L427.9,164.8 L428.3,163.4 L428.7,162.0 L429.1,160.7 L429.5,159.3 L430.0,157.9 L430.4,156.5 L430.8,155.1 L431.3,153.8 L431.8,152.4 L432.3,151.0 L432.8,149.6 L433.3,148.3 L433.8,146.9 L434.4,145.6 L435.0,144.3 L435.7,143.0 L436.4,141.8 L437.2,140.6 L438.0,139.5 L439.0,138.4 L440.0,137.4 L441.1,136.5 L442.2,135.8 L443.4,135.2 L444.6,134.9 L445.9,134.8 L447.1,134.9 L448.3,135.4 L449.4,136.0 L450.5,136.8 L451.6,137.7 L452.6,138.7 L453.6,139.8 L454.5,140.9 L455.3,142.0 L456.1,143.2 L456.9,144.5 L457.6,145.7 L458.3,147.0 L459.0,148.3 L459.6,149.7 L460.2,151.0 L460.8,152.4 L461.3,153.7 L461.9,155.0 L462.4,156.4 L462.9,157.7 L463.4,159.1 L463.9,160.5 L464.4,161.8 L464.8,163.2 L465.3,164.5 L465.7,165.9 L466.1,167.2 L466.6,168.6 L467.0,170.0 L467.4,171.3 L467.8,172.7 L468.2,174.0 L468.7,175.4 L469.1,176.8 L469.5,178.1 L469.9,179.5 L470.3,180.9 L470.7,182.2 L471.1,183.6 L471.5,185.0 L471.9,186.3 L472.3,187.7 L472.7,189.1 L473.1,190.4 L473.5,191.8 L473.9,193.2 L474.3,194.5 L474.7,195.9 L475.1,197.3 L475.4,198.6 L475.8,200.0 L476.2,201.4 L476.6,202.7 L477.0,204.1 L477.4,205.5 L477.7,206.9 L478.1,208.2 L478.5,209.6 L478.9,211.0 L479.3,212.3 L479.6,213.7 L480.0,215.1 L480.4,216.5 L480.7,217.8 L481.1,219.2 L481.5,220.6 L481.9,222.0 L482.2,223.3 L482.6,224.7 L483.0,226.1 L483.3,227.5 L483.7,228.8 L484.1,230.2 L484.4,231.6 L484.8,233.0 L485.1,234.3 L485.5,235.7 L485.9,237.1 L486.2,238.5 L486.6,239.8 L486.9,241.2 L487.3,242.6 L487.6,244.0 L488.0,245.4 L488.4,246.7 L488.7,248.1 L489.1,249.5 L489.4,250.9 L489.8,252.2 L490.1,253.6 L490.5,255.0 L490.8,256.4 L491.2,257.8 L491.5,259.1 L491.9,260.5 L492.2,261.9 L492.6,263.3 L492.9,264.7 L493.3,266.0 L493.6,267.4 L494.0,268.8 L494.3,270.2 L494.7,271.6 L495.0,272.9 L495.4,274.3 L495.7,275.7 L496.0,277.1 L496.4,278.5 L496.7,279.8 L497.1,281.2 L497.4,282.6 L497.8,284.0 L498.1,285.4 L498.5,286.7 L498.8,288.1 L499.1,289.5 L499.5,290.9 L499.8,292.3 L500.2,293.6 L500.5,295.0 L500.9,296.4 L501.2,297.8 L501.6,299.2 L501.9,300.6 L502.3,301.9 L502.6,303.3 L502.9,304.7 L503.3,306.1 L503.6,307.5 L504.0,308.8 L504.3,310.2 L504.7,311.6 L505.0,313.0 L505.4,314.4 L505.7,315.7 L506.1,317.1 L506.4,318.5 L506.8,319.9 L507.1,321.3 L507.4,322.6 L507.8,324.0 L508.1,325.4 L508.5,326.8 L508.8,328.2 L509.2,329.5 L509.6,330.9 L509.9,332.3 L510.3,333.7 L510.6,335.1 L511.0,336.4 L511.3,337.8 L511.7,339.2 L512.0,340.6 L512.4,342.0 L512.7,343.3 L513.1,344.7 L513.5,346.1 L513.8,347.5 L514.2,348.9 L514.5,350.2 L514.9,351.6 L515.3,353.0 L515.6,354.4 L516.0,355.7 L516.3,357.1 L516.7,358.5 L517.1,359.9 L517.4,361.3 L517.8,362.6 L518.2,364.0 L518.6,365.4 L518.9,366.8 L519.3,368.1 L519.7,369.5 L520.0,370.9 L520.4,372.3 L520.8,373.6 L521.2,375.0 L521.5,376.4 L521.9,377.7 L522.3,379.1 L522.7,380.5 L523.1,381.9 L523.5,383.2 L523.8,384.6 L524.2,386.0 L524.6,387.4 L525.0,388.7 L525.4,390.1 L525.8,391.5 L526.2,392.8 L526.6,394.2 L527.0,395.6 L527.4,396.9 L527.8,398.3 L528.2,399.7 L528.6,401.1 L529.0,402.4 L529.4,403.8 L529.8,405.2 L530.2,406.5 L530.6,407.9 L531.0,409.3 L531.4,410.6 L531.8,412.0 L532.2,413.4 L532.7,414.7 L533.1,416.1 L533.5,417.4 L533.9,418.8 L534.3,420.2 L534.8,421.5 L535.2,422.9 L535.6,424.3 L536.1,425.6 L536.5,427.0 L536.9,428.3 L537.4,429.7 L537.8,431.1 L538.2,432.4 L538.7,433.8 L539.1,435.1 L539.6,436.5 L540.0,437.9 L540.5,439.2 L540.9,440.6 L541.4,441.9 L541.8,443.3 L542.3,444.6 L542.7,446.0 L543.2,447.3 L543.7,448.7 L544.1,450.1 L544.6,451.4 L545.1,452.8 L545.5,454.1 L546.0,455.5 L546.5,456.8 L547.0,458.2 L547.4,459.5 L547.9,460.9 L548.4,462.2 L548.9,463.5 L549.4,464.9 L549.9,466.2 L550.4,467.6 L550.9,468.9 L551.4,470.2 L552.0,471.6 L552.5,472.9 L553.0,474.2 L553.6,475.5 L554.1,476.9 L554.6,478.2 L555.2,479.5 L555.7,480.8 L556.3,482.1 L556.9,483.4 L557.4,484.7 L558.0,486.0 L558.6,487.3 L559.2,488.6 L559.8,489.9 L560.4,491.2 L561.0,492.4 L561.7,493.7 L562.3,495.0 L562.9,496.3 L563.6,497.5 L564.2,498.8 L564.9,500.0 L565.6,501.3 L566.3,502.5 L566.9,503.7 L567.6,505.0 L568.4,506.2 L569.1,507.4 L569.8,508.6 L570.5,509.8 L571.3,511.0 L572.0,512.2 L572.8,513.4 L573.6,514.6 L574.4,515.8 L575.2,516.9 L576.0,518.1 L576.8,519.3 L577.6,520.4 L578.5,521.6 L579.3,522.7 L580.2,523.8 L581.1,524.9 L582.0,526.1 L582.9,527.2 L583.8,528.3 L584.7,529.3 L585.7,530.4 L586.6,531.5 L587.6,532.6 L588.6,533.6 L589.6,534.6 L590.6,535.6 L591.6,536.6 L592.7,537.6 L593.7,538.6 L594.8,539.5 L595.9,540.4 L597.0,541.3 L598.2,542.1 L599.3,542.9 L600.5,543.7 L601.7,544.4 L602.9,545.1 L604.1,545.8 L605.4,546.4 L606.7,546.9 L608.0,547.5 L609.3,547.9 L610.7,548.4 L612.0,548.7 L613.4,549.1 L614.9,549.3 L616.3,549.6 L617.8,549.8 L619.2,549.9 L620.7,550.1 L622.2,550.2 L623.7,550.2 L625.2,550.3 L626.6,550.3 L628.1,550.4 L629.6,550.4 L631.1,550.4 L632.6,550.4 L634.0,550.4 L635.5,550.4 L636.9,550.4 L638.3,550.4 L639.7,550.5 L641.1,550.5 L642.4,550.6 L643.7,550.7 L645.0,550.8 L792.3,550.8" stroke="#ff0000" stroke-dasharray="7.0 7.0 1.2 7.0 1.2 7.0"/>
<path d="M128.4,550.8 L129.4,550.8 L130.5,550.8 L131.6,550.8 L132.6,550.8 L133.7,550.8 L134.8,550.7 L135.8,550.7 L136.9,550.5 L138.0,550.4 L139.1,550.3 L140.1,550.1 L141.2,549.9 L142.3,549.7 L143.3,549.4 L144.4,549.1 L145.4,548.8 L146.4,548.5 L147.4,548.1 L148.5,547.8 L149.4,547.4 L150.4,546.9 L151.4,546.5 L152.3,546.0 L153.2,545.5 L154.1,544.9 L155.0,544.3 L155.9,543.7 L156.7,543.1 L157.5,542.5 L158.3,541.8 L159.1,541.0 L159.8,540.3 L160.5,539.5 L161.2,538.7 L161.9,537.9 L162.5,537.1 L163.1,536.2 L163.8,535.3 L164.3,534.4 L164.9,533.5 L165.5,532.6 L166.0,531.6 L166.6,530.7 L167.1,529.7 L167.6,528.7 L168.1,527.8 L168.6,526.8 L169.1,525.8 L169.6,524.8 L170.0,523.8 L170.5,522.8 L171.0,521.8 L171.4,520.8 L171.9,519.8 L172.3,518.8 L172.7,517.8 L173.2,516.8 L173.6,515.9 L174.1,514.9 L174.5,513.9 L174.9,512.9 L175.3,511.9 L175.8,511.0 L176.2,510.0 L176.6,509.0 L177.0,508.0 L177.4,507.0 L177.8,506.0 L178.2,505.1 L178.6,504.1 L179.0,503.1 L179.3,502.1 L179.7,501.1 L180.1,500.1 L180.5,499.2 L180.9,498.2 L181.2,497.2 L181.6,496.2 L182.0,495.2 L182.3,494.2 L182.7,493.2 L183.0,492.2 L183.4,491.2 L183.7,490.2 L184.1,489.2 L184.4,488.2 L184.7,487.2 L185.1,486.2 L185.4,485.2 L185.7,484.1 L186.1,483.1 L186.4,482.1 L186.7,481.1 L187.0,480.1 L187.3,479.1 L187.7,478.1 L188.0,477.0 L188.3,476.0 L188.6,475.0 L188.9,474.0 L189.2,473.0 L189.5,471.9 L189.8,470.9 L190.1,469.9 L190.4,468.9 L190.7,467.8 L191.0,466.8 L191.2,465.8 L191.5,464.8 L191.8,463.7 L192.1,462.7 L192.4,461.7 L192.7,460.6 L192.9,459.6 L193.2,458.6 L193.5,457.5 L193.7,456.5 L194.0,455.5 L194.3,454.4 L194.6,453.4 L194.8,452.4 L195.1,451.3 L195.3,450.3 L195.6,449.2 L195.9,448.2 L196.1,447.2 L196.4,446.1 L196.6,445.1 L196.9,444.0 L197.1,443.0 L197.4,442.0 L197.7,440.9 L197.9,439.9 L198.2,438.8 L198.4,437.8 L198.7,436.8 L198.9,435.7 L199.2,434.7 L199.4,433.6 L199.6,432.6 L199.9,431.5 L200.1,430.5 L200.4,429.4 L200.6,428.4 L200.9,427.4 L201.1,426.3 L201.4,425.3 L201.6,424.2 L201.8,423.2 L202.1,422.1 L202.3,421.1 L202.6,420.0 L202.8,419.0 L203.1,417.9 L203.3,416.9 L203.5,415.9 L203.8,414.8 L204.0,413.8 L204.3,412.7 L204.5,411.7 L204.8,410.6 L205.0,409.6 L205.2,408.6 L205.5,407.5 L205.7,406.5 L206.0,405.4 L206.2,404.4 L206.5,403.3 L206.7,402.3 L207.0,401.3 L207.2,400.2 L207.5,399.2 L207.7,398.1 L208.0,397.1 L208.2,396.1 L208.5,395.0 L208.7,394.0 L209.0,392.9 L209.2,391.9 L209.5,390.9 L209.7,389.8 L210.0,388.8 L210.3,387.8 L210.5,386.7 L210.8,385.7 L211.1,384.7 L211.3,383.6 L211.6,382.6 L211.9,381.6 L212.1,380.5 L212.4,379.5 L212.7,378.5 L212.9,377.5 L213.2,376.4 L213.5,375.4 L213.8,374.4 L214.1,373.4 L214.3,372.3 L214.6,371.3 L214.9,370.3 L215.2,369.3 L215.5,368.3 L215.8,367.3 L216.1,366.2 L216.4,365.2 L216.7,364.2 L217.0,363.2 L217.3,362.2 L217.6,361.2 L217.9,360.2 L218.2,359.1 L218.5,358.1 L218.9,357.1 L219.2,356.1 L219.5,355.1 L219.8,354.1 L220.1,353.1 L220.5,352.1 L220.8,351.1 L221.1,350.1 L221.5,349.1 L221.8,348.1 L222.1,347.1 L222.5,346.1 L222.8,345.1 L223.2,344.1 L223.5,343.0 L223.9,342.0 L224.2,341.0 L224.6,340.0 L224.9,339.0 L225.3,338.0 L225.7,337.0 L226.0,336.0 L226.4,335.0 L226.8,334.0 L227.1,333.0 L227.5,332.0 L227.9,331.0 L228.3,330.0 L228.7,329.0 L229.1,328.0 L229.4,327.0 L229.8,325.9 L230.2,324.9 L230.6,323.9 L231.0,322.9 L231.4,321.9 L231.8,320.9 L232.3,319.9 L232.7,318.9 L233.1,317.9 L233.5,316.8 L233.9,315.8 L234.3,314.8 L234.8,313.8 L235.2,312.8 L235.6,311.8 L236.1,310.7 L236.5,309.7 L237.0,308.7 L237.4,307.7 L237.9,306.7 L238.4,305.7 L238.8,304.7 L239.3,303.7 L239.9,302.7 L240.4,301.8 L241.0,300.9 L241.6,300.0 L242.2,299.1 L242.8,298.3 L243.5,297.5 L244.2,296.7 L244.9,295.9 L245.7,295.2 L246.5,294.5 L247.3,293.9 L248.2,293.3 L249.0,292.7 L250.0,292.2 L250.9,291.7 L251.9,291.2 L252.9,290.8 L253.9,290.4 L254.9,290.1 L255.9,289.8 L257.0,289.5 L258.0,289.2 L259.1,289.0 L260.2,288.8 L261.2,288.7 L262.3,288.6 L263.4,288.5 L264.4,288.4 L265.5,288.4 L266.6,288.4 L267.6,288.4 L268.6,288.5 L269.7,288.6 L270.7,288.7 L271.7,288.9 L272.7,289.0 L273.7,289.2 L274.7,289.5 L275.7,289.7 L276.7,290.0 L277.7,290.3 L278.7,290.6 L279.7,290.9 L280.6,291.3 L281.6,291.7 L282.6,292.0 L283.5,292.5 L284.5,292.9 L285.4,293.3 L286.4,293.8 L287.3,294.3 L288.3,294.8 L289.2,295.3 L290.1,295.8 L291.1,296.3 L292.0,296.9 L292.9,297.4 L293.8,298.0 L294.8,298.5 L295.7,299.1 L296.6,299.7 L297.5,300.3 L298.4,300.9 L299.3,301.5 L300.3,302.1 L301.2,302.7 L302.1,303.3 L303.0,304.0 L303.9,304.6 L304.8,305.2 L305.7,305.8 L306.6,306.4 L307.5,307.0 L308.4,307.7 L309.4,308.3 L310.3,308.9 L311.2,309.5 L312.1,310.1 L313.0,310.7 L313.9,311.3 L314.8,311.9 L315.8,312.4 L316.7,313.0 L317.6,313.6 L318.5,314.2 L319.4,314.7 L320.3,315.3 L321.3,315.9 L322.2,316.4 L323.1,317.0 L324.0,317.6 L324.9,318.1 L325.8,318.7 L326.8,319.2 L327.7,319.8 L328.6,320.4 L329.5,320.9 L330.4,321.5 L331.3,322.0 L332.2,322.6 L333.1,323.1 L334.0,323.7 L334.9,324.2 L335.8,324.8 L336.7,325.4 L337.6,325.9 L338.5,326.5 L339.4,327.1 L340.2,327.6 L341.1,328.2 L342.0,328.8 L342.9,329.4 L343.7,329.9 L344.6,330.5 L345.5,331.1 L346.3,331.7 L347.2,332.3 L348.0,332.9 L348.9,333.5 L349.7,334.1 L350.6,334.7 L351.4,335.4 L352.3,336.0 L353.1,336.6 L353.9,337.3 L354.7,337.9 L355.5,338.6 L356.3,339.2 L357.1,339.9 L357.9,340.6 L358.7,341.3 L359.5,342.0 L360.3,342.6 L361.1,343.4 L361.8,344.1 L362.6,344.8 L363.3,345.5 L364.1,346.3 L364.8,347.0 L365.6,347.8 L366.3,348.5 L367.0,349.3 L367.7,350.1 L368.5,350.9 L369.2,351.7 L369.9,352.5 L370.5,353.4 L371.2,354.2 L371.9,355.0 L372.6,355.9 L373.2,356.7 L373.9,357.6 L374.6,358.5 L375.2,359.3 L375.8,360.2 L376.5,361.1 L377.1,362.0 L377.7,362.9 L378.4,363.8 L379.0,364.7 L379.6,365.6 L380.2,366.5 L380.8,367.5 L381.4,368.4 L381.9,369.3 L382.5,370.3 L383.1,371.2 L383.7,372.1 L384.2,373.1 L384.8,374.0 L385.3,375.0 L385.9,375.9 L386.4,376.9 L387.0,377.9 L387.5,378.8 L388.0,379.8 L388.6,380.8 L389.1,381.7 L389.6,382.7 L390.1,383.7 L390.6,384.6 L391.1,385.6 L391.6,386.6 L392.1,387.5 L392.6,388.5 L393.1,389.5 L393.5,390.4 L394.0,391.4 L394.5,392.4 L395.0,393.3 L395.4,394.3 L395.9,395.3 L396.3,396.2 L396.8,397.2 L397.2,398.2 L397.7,399.1 L398.1,400.1 L398.5,401.0 L399.0,402.0 L399.4,403.0 L399.8,403.9 L400.3,404.9 L400.7,405.8 L401.1,406.8 L401.5,407.8 L401.9,408.7 L402.4,409.7 L402.8,410.6 L403.2,411.6 L403.6,412.5 L404.0,413.5 L404.4,414.5 L404.8,415.4 L405.2,416.4 L405.6,417.3 L406.0,418.3 L406.4,419.3 L406.8,420.2 L407.2,421.2 L407.6,422.1 L408.0,423.1 L408.4,424.1 L408.8,425.0 L409.2,426.0 L409.6,427.0 L410.0,427.9 L410.4,428.9 L410.8,429.8 L411.2,430.8 L411.6,431.8 L412.0,432.8 L412.4,433.7 L412.8,434.7 L413.2,435.7 L413.6,436.6 L414.0,437.6 L414.4,438.6 L414.9,439.6 L415.3,440.5 L415.7,441.5 L416.1,442.5 L416.5,443.5 L416.9,444.5 L417.4,445.5 L417.8,446.4 L418.2,447.4 L418.7,448.4 L419.1,449.4 L419.5,450.4 L420.0,451.4 L420.4,452.4 L420.8,453.4 L421.3,454.3 L421.7,455.3 L422.2,456.3 L422.6,457.3 L423.1,458.3 L423.5,459.3 L424.0,460.3 L424.5,461.3 L424.9,462.2 L425.4,463.2 L425.9,464.2 L426.4,465.2 L426.8,466.2 L427.3,467.1 L427.8,468.1 L428.3,469.1 L428.8,470.1 L429.3,471.0 L429.8,472.0 L430.3,473.0 L430.8,473.9 L431.3,474.9 L431.8,475.9 L432.3,476.8 L432.8,477.8 L433.4,478.7 L433.9,479.7 L434.4,480.6 L435.0,481.6 L435.5,482.5 L436.0,483.5 L436.6,484.4 L437.1,485.3 L437.7,486.3 L438.3,487.2 L438.8,488.1 L439.4,489.0 L440.0,490.0 L440.5,490.9 L441.1,491.8 L441.7,492.7 L442.3,493.6 L442.9,494.5 L443.5,495.4 L444.1,496.3 L444.7,497.1 L445.3,498.0 L446.0,498.9 L446.6,499.8 L447.2,500.6 L447.8,501.5 L448.5,502.3 L449.1,503.2 L449.8,504.0 L450.4,504.8 L451.1,505.7 L451.8,506.5 L452.4,507.3 L453.1,508.1 L453.8,508.9 L454.5,509.7 L455.2,510.5 L455.9,511.3 L456.6,512.1 L457.3,512.9 L458.0,513.6 L458.7,514.4 L459.5,515.2 L460.2,515.9 L460.9,516.6 L461.7,517.4 L462.4,518.1 L463.2,518.8 L464.0,519.5 L464.7,520.2 L465.5,520.9 L466.3,521.6 L467.1,522.3 L467.9,523.0 L468.7,523.6 L469.5,524.3 L470.3,524.9 L471.1,525.6 L471.9,526.2 L472.8,526.8 L473.6,527.4 L474.5,528.0 L475.3,528.6 L476.2,529.2 L477.1,529.8 L477.9,530.4 L478.8,530.9 L479.7,531.5 L480.6,532.0 L481.5,532.5 L482.4,533.1 L483.3,533.6 L484.3,534.1 L485.2,534.6 L486.1,535.0 L487.1,535.5 L488.1,536.0 L489.0,536.4 L490.0,536.9 L491.0,537.3 L491.9,537.7 L492.9,538.1 L493.9,538.5 L494.9,538.9 L495.9,539.3 L496.9,539.7 L497.9,540.1 L498.9,540.4 L500.0,540.8 L501.0,541.2 L502.0,541.5 L503.0,541.8 L504.1,542.1 L505.1,542.5 L506.2,542.8 L507.2,543.1 L508.3,543.4 L509.3,543.7 L510.4,543.9 L511.5,544.2 L512.5,544.5 L513.6,544.7 L514.7,545.0 L515.7,545.2 L516.8,545.5 L517.9,545.7 L519.0,545.9 L520.0,546.1 L521.1,546.3 L522.2,546.5 L523.3,546.7 L524.4,546.9 L525.5,547.1 L526.6,547.3 L527.6,547.5 L528.7,547.6 L529.8,547.8 L530.9,548.0 L532.0,548.1 L533.1,548.3 L534.2,548.4 L535.3,548.5 L536.4,548.7 L537.4,548.8 L538.5,548.9 L539.6,549.0 L540.7,549.1 L541.8,549.3 L542.9,549.4 L544.0,549.5 L545.0,549.6 L546.1,549.6 L547.2,549.7 L548.3,549.8 L549.3,549.9 L550.4,550.0 L551.5,550.0 L552.5,550.1 L553.6,550.2 L554.6,550.2 L555.7,550.3 L556.7,550.3 L557.8,550.4 L558.8,550.4 L559.9,550.5 L560.9,550.5 L561.9,550.6 L563.0,550.6 L564.0,550.6 L565.0,550.7 L566.0,550.7 L567.0,550.7 L568.0,550.8 L569.0,550.8 L570.0,550.8 L792.3,550.8" stroke="#0000ff" stroke-dasharray="8.2 11.6"/>
<path d="M128.3,550.8 L205.0,550.8 L206.3,550.8 L207.6,550.8 L208.9,550.8 L210.2,550.8 L211.5,550.8 L212.8,550.8 L214.1,550.8 L215.3,550.8 L216.6,550.8 L217.9,550.8 L219.2,550.8 L220.5,550.8 L221.7,550.7 L223.0,550.6 L224.3,550.5 L225.5,550.4 L226.8,550.2 L228.1,550.1 L229.3,549.9 L230.6,549.7 L231.8,549.5 L233.1,549.3 L234.3,549.1 L235.6,548.8 L236.8,548.6 L238.0,548.3 L239.3,548.1 L240.5,547.8 L241.7,547.5 L243.0,547.2 L244.2,546.8 L245.4,546.5 L246.6,546.2 L247.8,545.8 L249.0,545.4 L250.3,545.1 L251.5,544.7 L252.7,544.3 L253.8,543.9 L255.0,543.4 L256.2,543.0 L257.4,542.6 L258.6,542.1 L259.8,541.6 L260.9,541.2 L262.1,540.7 L263.3,540.2 L264.4,539.7 L265.6,539.2 L266.7,538.7 L267.9,538.1 L269.0,537.6 L270.2,537.0 L271.3,536.5 L272.4,535.9 L273.6,535.3 L274.7,534.7 L275.8,534.1 L276.9,533.5 L278.0,532.9 L279.1,532.3 L280.2,531.7 L281.3,531.0 L282.4,530.4 L283.5,529.7 L284.6,529.1 L285.6,528.4 L286.7,527.7 L287.8,527.0 L288.8,526.4 L289.9,525.7 L290.9,524.9 L292.0,524.2 L293.0,523.5 L294.1,522.8 L295.1,522.1 L296.1,521.3 L297.1,520.6 L298.2,519.8 L299.2,519.0 L300.2,518.3 L301.2,517.5 L302.2,516.7 L303.2,515.9 L304.2,515.1 L305.2,514.4 L306.2,513.5 L307.1,512.7 L308.1,511.9 L309.1,511.1 L310.1,510.3 L311.0,509.4 L312.0,508.6 L312.9,507.8 L313.9,506.9 L314.8,506.1 L315.8,505.2 L316.7,504.3 L317.6,503.5 L318.6,502.6 L319.5,501.7 L320.4,500.8 L321.3,500.0 L322.2,499.1 L323.2,498.2 L324.1,497.3 L325.0,496.4 L325.9,495.5 L326.8,494.5 L327.7,493.6 L328.5,492.7 L329.4,491.8 L330.3,490.9 L331.2,489.9 L332.1,489.0 L332.9,488.1 L333.8,487.1 L334.7,486.2 L335.5,485.2 L336.4,484.3 L337.2,483.3 L338.1,482.4 L338.9,481.4 L339.8,480.5 L340.6,479.5 L341.4,478.6 L342.3,477.6 L343.1,476.6 L343.9,475.6 L344.7,474.7 L345.5,473.7 L346.4,472.7 L347.2,471.7 L348.0,470.7 L348.8,469.7 L349.5,468.8 L350.3,467.8 L351.1,466.8 L351.9,465.7 L352.7,464.7 L353.4,463.7 L354.2,462.7 L354.9,461.7 L355.7,460.7 L356.4,459.7 L357.1,458.6 L357.9,457.6 L358.6,456.6 L359.3,455.5 L360.0,454.5 L360.7,453.4 L361.4,452.4 L362.1,451.3 L362.7,450.3 L363.4,449.2 L364.1,448.1 L364.7,447.0 L365.3,446.0 L366.0,444.9 L366.6,443.8 L367.2,442.7 L367.8,441.6 L368.4,440.5 L369.0,439.4 L369.6,438.3 L370.2,437.2 L370.7,436.0 L371.3,434.9 L371.8,433.8 L372.3,432.7 L372.9,431.5 L373.4,430.4 L373.9,429.2 L374.4,428.1 L374.9,426.9 L375.4,425.7 L375.8,424.6 L376.3,423.4 L376.8,422.2 L377.2,421.1 L377.7,419.9 L378.1,418.7 L378.5,417.5 L379.0,416.3 L379.4,415.1 L379.8,413.9 L380.2,412.7 L380.6,411.5 L381.0,410.3 L381.4,409.1 L381.8,407.9 L382.2,406.7 L382.6,405.5 L383.0,404.3 L383.3,403.0 L383.7,401.8 L384.1,400.6 L384.5,399.4 L384.8,398.1 L385.2,396.9 L385.6,395.7 L385.9,394.5 L386.3,393.2 L386.6,392.0 L387.0,390.8 L387.4,389.5 L387.7,388.3 L388.1,387.1 L388.4,385.8 L388.8,384.6 L389.2,383.4 L389.5,382.1 L389.9,380.9 L390.3,379.7 L390.6,378.4 L391.0,377.2 L391.4,376.0 L391.7,374.7 L392.1,373.5 L392.5,372.3 L392.9,371.0 L393.2,369.8 L393.6,368.6 L394.0,367.4 L394.4,366.1 L394.7,364.9 L395.1,363.7 L395.5,362.4 L395.9,361.2 L396.3,360.0 L396.7,358.8 L397.0,357.5 L397.4,356.3 L397.8,355.1 L398.2,353.9 L398.6,352.6 L398.9,351.4 L399.3,350.2 L399.7,349.0 L400.1,347.7 L400.4,346.5 L400.8,345.3 L401.2,344.1 L401.6,342.9 L401.9,341.6 L402.3,340.4 L402.7,339.2 L403.0,338.0 L403.4,336.8 L403.8,335.5 L404.1,334.3 L404.5,333.1 L404.8,331.9 L405.2,330.7 L405.5,329.4 L405.9,328.2 L406.2,327.0 L406.5,325.8 L406.9,324.6 L407.2,323.4 L407.5,322.1 L407.9,320.9 L408.2,319.7 L408.5,318.5 L408.8,317.3 L409.2,316.1 L409.5,314.9 L409.8,313.6 L410.1,312.4 L410.4,311.2 L410.7,310.0 L411.0,308.8 L411.3,307.6 L411.6,306.4 L412.0,305.2 L412.3,303.9 L412.6,302.7 L412.9,301.5 L413.2,300.3 L413.5,299.1 L413.8,297.9 L414.1,296.7 L414.4,295.5 L414.7,294.2 L415.0,293.0 L415.3,291.8 L415.6,290.6 L415.9,289.4 L416.3,288.2 L416.6,287.0 L416.9,285.8 L417.2,284.6 L417.5,283.3 L417.8,282.1 L418.2,280.9 L418.5,279.7 L418.8,278.5 L419.1,277.3 L419.5,276.1 L419.8,274.9 L420.1,273.7 L420.5,272.4 L420.8,271.2 L421.2,270.0 L421.5,268.8 L421.9,267.6 L422.2,266.4 L422.6,265.2 L422.9,264.0 L423.3,262.7 L423.7,261.5 L424.0,260.3 L424.4,259.1 L424.8,257.9 L425.2,256.7 L425.6,255.5 L426.0,254.3 L426.4,253.0 L426.8,251.8 L427.2,250.6 L427.6,249.4 L428.1,248.2 L428.5,247.0 L428.9,245.7 L429.4,244.5 L429.8,243.3 L430.3,242.1 L430.7,240.9 L431.2,239.7 L431.7,238.4 L432.2,237.2 L432.7,236.0 L433.2,234.8 L433.7,233.6 L434.2,232.4 L434.7,231.1 L435.2,229.9 L435.7,228.7 L436.3,227.5 L436.8,226.3 L437.4,225.0 L438.0,223.8 L438.5,222.6 L439.1,221.4 L439.7,220.1 L440.3,218.9 L440.9,217.7 L441.5,216.5 L442.2,215.3 L442.8,214.1 L443.5,213.0 L444.2,211.9 L444.9,210.8 L445.6,209.7 L446.4,208.7 L447.1,207.7 L447.9,206.7 L448.7,205.9 L449.6,205.0 L450.4,204.2 L451.3,203.5 L452.3,202.9 L453.2,202.3 L454.2,201.8 L455.2,201.3 L456.3,201.0 L457.3,200.7 L458.5,200.5 L459.6,200.4 L460.8,200.4 L462.0,200.6 L463.2,200.8 L464.4,201.2 L465.5,201.7 L466.6,202.4 L467.6,203.1 L468.6,203.9 L469.6,204.7 L470.5,205.6 L471.4,206.5 L472.3,207.4 L473.1,208.3 L474.0,209.2 L474.8,210.2 L475.5,211.1 L476.3,212.1 L477.0,213.1 L477.7,214.2 L478.4,215.2 L479.1,216.3 L479.7,217.3 L480.4,218.4 L481.0,219.5 L481.6,220.6 L482.1,221.7 L482.7,222.9 L483.3,224.0 L483.8,225.2 L484.3,226.3 L484.8,227.5 L485.3,228.7 L485.8,229.9 L486.3,231.1 L486.8,232.2 L487.2,233.4 L487.7,234.6 L488.1,235.9 L488.6,237.1 L489.0,238.3 L489.5,239.5 L489.9,240.7 L490.3,241.9 L490.8,243.1 L491.2,244.3 L491.6,245.6 L492.0,246.8 L492.4,248.0 L492.9,249.2 L493.3,250.4 L493.7,251.6 L494.1,252.8 L494.5,254.1 L494.9,255.3 L495.3,256.5 L495.7,257.7 L496.1,258.9 L496.5,260.2 L496.9,261.4 L497.3,262.6 L497.7,263.8 L498.0,265.0 L498.4,266.2 L498.8,267.5 L499.2,268.7 L499.5,269.9 L499.9,271.1 L500.3,272.3 L500.7,273.6 L501.0,274.8 L501.4,276.0 L501.8,277.2 L502.1,278.5 L502.5,279.7 L502.8,280.9 L503.2,282.1 L503.5,283.3 L503.9,284.6 L504.2,285.8 L504.6,287.0 L504.9,288.2 L505.3,289.5 L505.6,290.7 L506.0,291.9 L506.3,293.1 L506.7,294.4 L507.0,295.6 L507.3,296.8 L507.7,298.0 L508.0,299.3 L508.3,300.5 L508.7,301.7 L509.0,302.9 L509.3,304.2 L509.6,305.4 L510.0,306.6 L510.3,307.8 L510.6,309.1 L510.9,310.3 L511.3,311.5 L511.6,312.8 L511.9,314.0 L512.2,315.2 L512.5,316.4 L512.9,317.7 L513.2,318.9 L513.5,320.1 L513.8,321.3 L514.1,322.6 L514.4,323.8 L514.7,325.0 L515.1,326.3 L515.4,327.5 L515.7,328.7 L516.0,329.9 L516.3,331.2 L516.6,332.4 L516.9,333.6 L517.2,334.9 L517.5,336.1 L517.8,337.3 L518.1,338.5 L518.4,339.8 L518.7,341.0 L519.0,342.2 L519.3,343.5 L519.6,344.7 L519.9,345.9 L520.2,347.1 L520.6,348.4 L520.9,349.6 L521.2,350.8 L521.5,352.1 L521.8,353.3 L522.1,354.5 L522.4,355.7 L522.7,357.0 L523.0,358.2 L523.3,359.4 L523.6,360.7 L523.9,361.9 L524.2,363.1 L524.5,364.4 L524.8,365.6 L525.1,366.8 L525.4,368.0 L525.7,369.3 L526.0,370.5 L526.3,371.7 L526.6,373.0 L526.9,374.2 L527.2,375.4 L527.5,376.6 L527.8,377.9 L528.1,379.1 L528.4,380.3 L528.7,381.6 L529.1,382.8 L529.4,384.0 L529.7,385.2 L530.0,386.5 L530.3,387.7 L530.6,388.9 L530.9,390.2 L531.2,391.4 L531.5,392.6 L531.9,393.8 L532.2,395.1 L532.5,396.3 L532.8,397.5 L533.1,398.8 L533.5,400.0 L533.8,401.2 L534.1,402.4 L534.4,403.7 L534.7,404.9 L535.1,406.1 L535.4,407.3 L535.7,408.6 L536.1,409.8 L536.4,411.0 L536.7,412.2 L537.1,413.5 L537.4,414.7 L537.7,415.9 L538.1,417.1 L538.4,418.4 L538.7,419.6 L539.1,420.8 L539.4,422.0 L539.8,423.3 L540.1,424.5 L540.5,425.7 L540.8,426.9 L541.2,428.2 L541.5,429.4 L541.9,430.6 L542.2,431.8 L542.6,433.0 L543.0,434.3 L543.3,435.5 L543.7,436.7 L544.1,437.9 L544.4,439.1 L544.8,440.4 L545.2,441.6 L545.6,442.8 L545.9,444.0 L546.3,445.2 L546.7,446.4 L547.1,447.7 L547.5,448.9 L547.9,450.1 L548.3,451.3 L548.7,452.5 L549.1,453.7 L549.5,454.9 L549.9,456.1 L550.3,457.3 L550.8,458.5 L551.2,459.7 L551.6,460.9 L552.0,462.1 L552.5,463.3 L552.9,464.5 L553.3,465.7 L553.8,466.9 L554.2,468.1 L554.7,469.3 L555.1,470.5 L555.6,471.6 L556.1,472.8 L556.5,474.0 L557.0,475.2 L557.5,476.4 L558.0,477.5 L558.5,478.7 L558.9,479.9 L559.4,481.1 L559.9,482.2 L560.4,483.4 L561.0,484.6 L561.5,485.7 L562.0,486.9 L562.5,488.0 L563.0,489.2 L563.6,490.3 L564.1,491.5 L564.7,492.6 L565.2,493.8 L565.8,494.9 L566.3,496.1 L566.9,497.2 L567.5,498.3 L568.0,499.5 L568.6,500.6 L569.2,501.7 L569.8,502.8 L570.4,503.9 L571.0,505.1 L571.6,506.2 L572.3,507.3 L572.9,508.4 L573.5,509.5 L574.2,510.6 L574.8,511.7 L575.4,512.8 L576.1,513.9 L576.8,515.0 L577.4,516.1 L578.1,517.1 L578.8,518.2 L579.5,519.3 L580.2,520.4 L580.9,521.4 L581.6,522.5 L582.3,523.5 L583.1,524.6 L583.8,525.6 L584.6,526.6 L585.3,527.6 L586.1,528.6 L586.9,529.6 L587.7,530.6 L588.5,531.6 L589.4,532.5 L590.2,533.4 L591.1,534.3 L592.0,535.2 L592.9,536.1 L593.8,537.0 L594.7,537.8 L595.7,538.6 L596.7,539.4 L597.6,540.1 L598.7,540.9 L599.7,541.6 L600.7,542.3 L601.8,542.9 L602.9,543.6 L604.0,544.2 L605.2,544.8 L606.3,545.3 L607.5,545.8 L608.7,546.3 L609.9,546.8 L611.1,547.3 L612.3,547.7 L613.5,548.1 L614.8,548.5 L616.0,548.8 L617.3,549.1 L618.5,549.4 L619.8,549.7 L621.1,550.0 L622.3,550.2 L623.6,550.4 L624.9,550.6 L626.2,550.7 L627.5,550.8 L628.7,550.8 L630.0,550.8 L631.3,550.8 L632.6,550.8 L633.8,550.8 L635.1,550.8 L636.3,550.8 L637.6,550.8 L638.8,550.8 L640.0,550.8 L792.3,550.8" stroke="#0000ff" stroke-dasharray="7.0 7.0 1.2 7.0 1.2 7.0"/>
</g>
<g class="tk">
<text transform="translate(179.38,575.70) scale(0.9372,1)" font-size="20.49" text-anchor="middle">10</text>
<text transform="translate(281.53,575.70) scale(0.9372,1)" font-size="20.49" text-anchor="middle">11</text>
<text transform="translate(383.68,575.70) scale(0.9372,1)" font-size="20.49" text-anchor="middle">12</text>
<text transform="translate(485.84,575.70) scale(0.9372,1)" font-size="20.49" text-anchor="middle">13</text>
<text transform="translate(587.99,575.70) scale(0.9372,1)" font-size="20.49" text-anchor="middle">14</text>
<text transform="translate(690.15,575.70) scale(0.9372,1)" font-size="20.49" text-anchor="middle">15</text>
<text transform="translate(792.30,575.70) scale(0.9372,1)" font-size="20.49" text-anchor="middle">16</text>
<text transform="translate(118.10,557.50) scale(0.8811,1)" font-size="21.79" text-anchor="end">0,00</text>
<text transform="translate(118.10,388.10) scale(0.8811,1)" font-size="21.79" text-anchor="end">0,33</text>
<text transform="translate(118.10,218.70) scale(0.8811,1)" font-size="21.79" text-anchor="end">0,66</text>
<text transform="translate(118.10,49.30) scale(0.8811,1)" font-size="21.79" text-anchor="end">0,99</text>
</g>
<text transform="translate(142.00,69.20) scale(1.0000,1)" font-size="22.80" text-anchor="start">(b)</text>
<text x="443.9" y="68.9" font-size="19.4" font-weight="bold">Prior set #2</text>
<g>
<text transform="translate(611.60,68.20) scale(0.9506,1)" font-size="23.09" text-anchor="start">TD-LVC-2018</text>
<path class="cv" d="M556.7,60.7 L605.2,60.7" stroke="#ff0000"/>
<text transform="translate(610.30,97.90) scale(0.9506,1)" font-size="23.09" text-anchor="start">+</text>
<g transform="translate(623.40,97.90)" fill="none" stroke="#000"><path d="M9.75,-10.95 L1.0,4.0" stroke-width="1.95"/><path d="M0.35,-7.6 C0.55,-9.7 1.5,-10.75 2.6,-10.6 C3.75,-10.4 4.3,-8.6 5.0,-5.6 L6.9,0.9 C7.55,3.1 8.3,4.05 9.3,3.75 C10.2,3.45 10.8,2.3 11.0,0.95" stroke-width="1.3" stroke-linecap="round" stroke-linejoin="round"/></g>
<text transform="translate(635.25,97.90) scale(0.9254,1)" font-size="23.09" text-anchor="start">EFT+GMR</text>
<text transform="translate(611.60,124.00) scale(0.9382,1)" font-size="23.09" text-anchor="start">TD-De-2018</text>
<path class="cv" d="M556.7,116.5 L605.2,116.5" stroke="#ff0000" stroke-dasharray="8.2 11.6"/>
<text transform="translate(610.30,153.60) scale(0.9506,1)" font-size="23.09" text-anchor="start">+</text>
<g transform="translate(623.40,153.60)" fill="none" stroke="#000"><path d="M9.75,-10.95 L1.0,4.0" stroke-width="1.95"/><path d="M0.35,-7.6 C0.55,-9.7 1.5,-10.75 2.6,-10.6 C3.75,-10.4 4.3,-8.6 5.0,-5.6 L6.9,0.9 C7.55,3.1 8.3,4.05 9.3,3.75 C10.2,3.45 10.8,2.3 11.0,0.95" stroke-width="1.3" stroke-linecap="round" stroke-linejoin="round"/></g>
<text transform="translate(635.25,153.60) scale(0.9254,1)" font-size="23.09" text-anchor="start">EFT+GMR</text>
<text transform="translate(611.60,179.60) scale(0.9468,1)" font-size="23.09" text-anchor="start">TD-Coughlin-2019</text>
<path class="cv" d="M556.7,172.1 L605.2,172.1" stroke="#ff0000" stroke-dasharray="7.0 7.0 1.2 7.0 1.2 7.0"/>
<text transform="translate(610.30,209.30) scale(0.9506,1)" font-size="23.09" text-anchor="start">+</text>
<g transform="translate(623.40,209.30)" fill="none" stroke="#000"><path d="M9.75,-10.95 L1.0,4.0" stroke-width="1.95"/><path d="M0.35,-7.6 C0.55,-9.7 1.5,-10.75 2.6,-10.6 C3.75,-10.4 4.3,-8.6 5.0,-5.6 L6.9,0.9 C7.55,3.1 8.3,4.05 9.3,3.75 C10.2,3.45 10.8,2.3 11.0,0.95" stroke-width="1.3" stroke-linecap="round" stroke-linejoin="round"/></g>
<text transform="translate(635.25,209.30) scale(0.9254,1)" font-size="23.09" text-anchor="start">EFT+GMR</text>
<text transform="translate(611.60,235.70) scale(0.9506,1)" font-size="23.09" text-anchor="start">TD-LVC-2018</text>
<path class="cv" d="M556.7,228.2 L605.2,228.2" stroke="#0000ff"/>
<text transform="translate(611.60,262.20) scale(0.9382,1)" font-size="23.09" text-anchor="start">TD-De-2018</text>
<path class="cv" d="M556.7,254.7 L605.2,254.7" stroke="#0000ff" stroke-dasharray="8.2 11.6"/>
<text transform="translate(611.60,288.60) scale(0.9468,1)" font-size="23.09" text-anchor="start">TD-Coughlin-2019</text>
<path class="cv" d="M556.7,281.1 L605.2,281.1" stroke="#0000ff" stroke-dasharray="7.0 7.0 1.2 7.0 1.2 7.0"/>
<g transform="translate(611.05,318.30)" fill="none" stroke="#000"><path d="M9.75,-10.95 L1.0,4.0" stroke-width="1.95"/><path d="M0.35,-7.6 C0.55,-9.7 1.5,-10.75 2.6,-10.6 C3.75,-10.4 4.3,-8.6 5.0,-5.6 L6.9,0.9 C7.55,3.1 8.3,4.05 9.3,3.75 C10.2,3.45 10.8,2.3 11.0,0.95" stroke-width="1.3" stroke-linecap="round" stroke-linejoin="round"/></g>
<text transform="translate(623.30,318.30) scale(0.9106,1)" font-size="23.09" text-anchor="start">EFT</text>
<path class="cv" d="M556.7,310.8 L605.2,310.8" stroke="#ff8000"/>
<text transform="translate(611.00,344.50) scale(0.9430,1)" font-size="23.09" text-anchor="start">GMR</text>
<path class="cv" d="M556.7,337.0 L605.2,337.0" stroke="#b97df8" stroke-dasharray="8.2 11.6"/>
</g>
<text transform="translate(53.9,284.0) rotate(-90)" text-anchor="middle" font-size="23.7">PDF</text>
<text x="410.5" y="611.2" font-size="23">R</text>
<text transform="translate(428.20,619.60) scale(0.8621,1)" font-size="22.50" text-anchor="start">1.4</text>
<text x="463.0" y="611.8" font-size="23">(km)</text>
</svg>
</body></html>
